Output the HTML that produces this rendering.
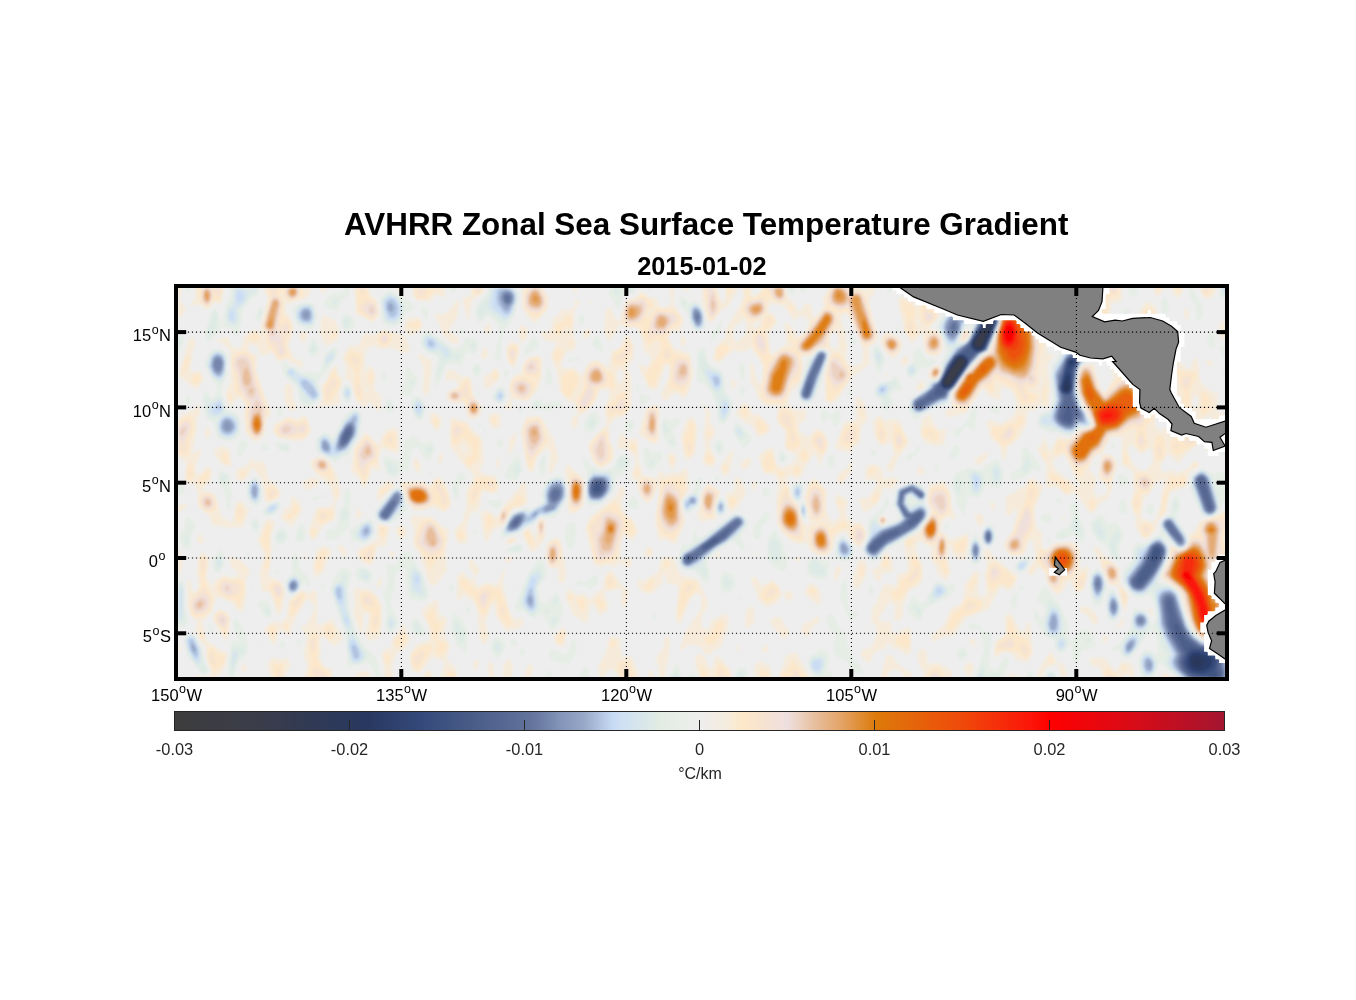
<!DOCTYPE html><html><head><meta charset="utf-8"><style>html,body{margin:0;padding:0;background:#fff;width:1356px;height:1000px;overflow:hidden}svg{display:block;will-change:transform}text{font-family:"Liberation Sans",sans-serif}</style></head><body>
<svg width="1356" height="1000" viewBox="0 0 1356 1000">
<defs>
<filter id="b2" x="-50%" y="-50%" width="200%" height="200%"><feGaussianBlur stdDeviation="2"/></filter>
<filter id="b3" x="-50%" y="-50%" width="200%" height="200%"><feGaussianBlur stdDeviation="3"/></filter>
<filter id="b5" x="-50%" y="-50%" width="200%" height="200%"><feGaussianBlur stdDeviation="5"/></filter>
<filter id="fb" x="-2%" y="-2%" width="104%" height="104%"><feGaussianBlur stdDeviation="1.6"/></filter>
<clipPath id="mapclip"><rect x="178" y="288" width="1047" height="389"/></clipPath>
<linearGradient id="cb" x1="0" x2="1" y1="0" y2="0"><stop offset="0.0000" stop-color="#3d3d3d"/><stop offset="0.0833" stop-color="#3a3c4a"/><stop offset="0.1333" stop-color="#303a55"/><stop offset="0.1833" stop-color="#283860"/><stop offset="0.2333" stop-color="#34497a"/><stop offset="0.2833" stop-color="#495c88"/><stop offset="0.3333" stop-color="#5f7099"/><stop offset="0.3467" stop-color="#6a7aa2"/><stop offset="0.3667" stop-color="#8294b8"/><stop offset="0.3900" stop-color="#98a8c8"/><stop offset="0.4183" stop-color="#c8dcf5"/><stop offset="0.4350" stop-color="#d3e3ef"/><stop offset="0.4617" stop-color="#e1ece3"/><stop offset="0.4833" stop-color="#e9eee8"/><stop offset="0.5000" stop-color="#eeeeee"/><stop offset="0.5250" stop-color="#f4ecdf"/><stop offset="0.5417" stop-color="#fde8c8"/><stop offset="0.5650" stop-color="#f5e2d3"/><stop offset="0.5833" stop-color="#eedfe0"/><stop offset="0.5942" stop-color="#ecd3c4"/><stop offset="0.6150" stop-color="#e6b993"/><stop offset="0.6367" stop-color="#e3a262"/><stop offset="0.6550" stop-color="#df8b2e"/><stop offset="0.6683" stop-color="#dd7a0a"/><stop offset="0.7500" stop-color="#ef4a0a"/><stop offset="0.8167" stop-color="#fc1408"/><stop offset="0.8333" stop-color="#ff0000"/><stop offset="0.9167" stop-color="#d60c18"/><stop offset="1.0000" stop-color="#a31530"/></linearGradient>
</defs>
<text x="706.2" y="235" text-anchor="middle" font-size="31.4" font-weight="bold" fill="#000">AVHRR Zonal Sea Surface Temperature Gradient</text>
<text x="701.9" y="275.2" text-anchor="middle" font-size="25.3" font-weight="bold" fill="#000">2015-01-02</text>
<g clip-path="url(#mapclip)">
<rect x="178" y="288" width="1047" height="389" fill="#eeeeee"/>
<g transform="translate(178 288) scale(0.5)" filter="url(#fb)"><path fill="#f6ebda" fill-rule="evenodd" d="M8 57l-8 3 0-60 8 0-6 24 14 16-8 17zM60 43l-20-11-17 4 11-16 0-20 58 0-4 28-4 4-12-3-12 14zM160 307l-8-1-17-18-3-32 3-20-7-14-9-2-15 17-4-5-5-24 10-20 0-64-17-14-11-2 3-5 20-6 6 19 14 6 8-6 4-19 9-9 15-5 12 6-2-13 14-56-6-8-1-12 93 0-2 12-7 8-42 12 1 16 11 16 4 16-9 36 10 24 17 8-1 14-12-10-12-3-4-7-20 5-12-18-16 7-9-4-3-15-12-4-8 3 4 12 15 8-3 28 31 88-11 11-3 29-13 15zM292 10l-8-2-1-8 15 0-6 10zM388 68l-32-17-4-51 30 0 3 12 14 16 3 28-14 12zM448 6l-8 0-8-6 19 0-3 6zM504 27l-28-3-6-8-2-16 67 0-3 19-16-6-12 14zM580 69l-11-45 3-5 13-3 2-16 27 0-6 12-20 12-8 45zM716 69l-12-5-15-24-1-40 41 0 12 20-2 24-23 25zM796 11l-9-11 12 0-3 11zM980 224l-10 0-4-12 16-36 1-20-3-3-6 3-14 45-8 3-12-5-19-43 3-4 8 6 8-1 6-17-4-8-10-4-3-24-9-22-8-4-16 2-12-7-20 33-7-6-5-16 3-36 5-9 5 1 11 23 8 1 12-39 20-6 12-13 16 13 12 0 8 19 12 1 11-11-4-28 10 0-2 32 21 32-8 24-16-4-7 16 11 20 32 11 6 41-8 36-6 10-8 3-8-10-8-2-12 15zM1020 8l-12-8 15 0-3 8zM1068 70l-8-6-13-40 1-24 29 0 11 31 6-7 0-24 26 0-20 38-12 4-20 28zM1296 536l-16-2-16-10-8-16-8 4-16-2-24-21-9-17-3-44 5-40-9-15-20-2-12-35 20-16 10 0 7 32 11 8 24-11 5-9-3-8-14-5-7-11 3-28-18-20 1-32-23 0-11-8-6-8-3-17-11-15-1-40 6 4 10 41 8-6 2-27-5-16-21-26-12 11-20-5-32 27-10-7 4-24 20-20 3-20 31-52 3-12-4-16 20 0 1 12 4 4 8-4 6-12 49 0 5 20 12 9 8 18 4 0 12-17 9 2 7 28 8-4 11-20-2-12 13-24 61 0 9 6 4-6 18 0-2 13-9 7 0 8 5 31 13 37-3 8-18 16 3 32-35 26-26 42-18 13-10-9-1-44 11-52-8-7-16 0-12 12-20 4 2 23-6 28-8 14-8 1-8 21 4 13 16 8 12-3 4 5-1 17-15 8 4 18 16 8 16-15 8 0 8 7 10 22-18 42-4 2 0-16-8-9-17 25-7 20-12 5-12-6-6 5 7 36 16 20 7 29 8 9 8-2-11-52 7-29 8-8 8-2 21 23-1 39 8 21 8 4 12-12-11-32 3-9 8-1 15 10-3 32 12 12 20 3 9 17-3 16-14 15-24-30-8-2-15 13-5 25-12 11zM1524 133l-16 3-12-6-8-41-20 23-15-24-13-64 4-7 20 5 7-2 0-20 48 0-3 21-12 11 16 10 2 14-20 24 18 8 6 8 4 20-6 17zM1540 9l-8-3-3-6 19 0-8 9zM1568 22l-9-2 0-20 11 0-2 22zM1656 342l-4 2-9-28-17-16-10-32 8-4 24 7 23-15 6-20-3-20-6-9-12-8-11 1-1 25-23-9-9-14-4 0-32 48-36 9-6-11 6-6 9 2 0-36 23-33 32-36 17-11 11-24 11-32 1-24-18-48 62 0-6 24 22 23 20 44 12-3 4 4-2 36 2 4 12 0-14 24 6 44-3 36-5 4-12-7-12 12-13-1-2 28-14 28-25 20-2 22zM1712 9l-8-1-4-8 15 0-3 9zM1732 32l-3-12 5-20 27 0 3 20-12-4-20 16zM1812 24l-11-12 7-12 5 0 3 7 0 13-4 4zM1860 64l-20-7-5-9 1-48 51 0 1 21-4 6-16 4-8 33zM1960 17l-5-1-4-16 22 0-13 17zM2004 18l-8 1-11-19 27 0-8 18zM2064 21l-12 0-9-21 33 0-2 12-10 9zM1483 32l-3-12-7 0 3 12 4 3 3-3zM556 113l-8-2-20-19-3-16-12-20 3-5 12 3 11-6 21-25 3 5-5 32-17 24 20 16 0 8-5 5zM848 360l-8-2-9-10-11-32 2-8 36-36-5-28 10-28-1-8-6-6-13 2-8 24-19 19-16 9 0 16-8 12-6-16 2-8 11-8-2-8-5-14-12-3-16-19-7-44-11-24 2-13 11-19-23-2-10-14 2-5 16 1 8-29 11-7 5-10 12 2 11-4 5-19 8 7-11 16-2 48 6 24-5 7-16 5-10 24 2 8 24 0 16 15 12-24 16-8 24 17 8-34 16-7 12-26 8 5 7 18 0 24-13 20 8 16 1 64-15 16-17 4-13 16 1 28 9 20 0 12-5 12-19 12zM828 34l-5-2 1-5 4-1 0 8zM1940 96l-13-8-7-20 1-16 15-26 19 10 4 12-3 28-16 20zM1196 128l21-16-4-40 3-3 12 8 12 23 18-16 5-16-7-10-12-4-12 12-20-30-24-5-4 1-5 16 13 5 6 15-17 24 4 36 3 4 8-4zM2020 63l-4 1-4-12 4-13 6 9-2 15zM1350 156l19-4 1-32-26-61-8-9-9 6-1 8 8 24 5 32-4 20 5 12 10 4zM304 113l-8 3-13-28 4-28 5-5 24 11 7 26-3 12-16 9zM476 92l-16 2-8-10 0-12 8-12 20-2 8 9 0 13-12 12zM1120 108l14-16 4-20-6-11-21 19 0 20 5 9 4-1zM1153 80l8-4 4-12-14 8 2 8zM1483 72l-3-10-2 10 2 3 3-3zM2096 104l-9-4-5-8 0-16 6-14 8 15 0 27zM616 92l-5-8 9-14 6 6 0 8-10 8zM688 108l-4 0-3-24 2-8 5-2 8 4 4 10-4 15-8 5zM1976 96l-4-12 8-11 2 11-6 12zM820 101l-8 0-2-5 2-10 8-6 6 8-6 13zM1840 142l-4 2-4-4-5-12-11-11-23-9-1-12 8-2 37 30-4-32 3-13 4 3 6 22-6 38zM400 248l-16-21-12 12-15-11-11-40-12-8 2-20-7-24 15-22 16 2 12-24 20 2 20-11 44 14 8 27-8 8-28-13-24 3-12-8-17 10-3 62 1-18 7-11 8 0 7 15-2 32 13 12 0 24-6 8zM1572 106l-8-2 1-4 7-13 8-4 2 13-10 10zM1768 103l-9-11 9-12 3 8-3 15zM1940 501l-11-1-14-20 1-16-10-32 6-32-3-28-2-8-15-6-5-6 1-54-24 1-16 33-12 2-8 10-6 20 15 16-6 28 9 11 16-7 3-8-4-12-15-12 8-48 20 2 11 18-9 28-2 23-8 17-16 11-16 20-8-5-24-36-20 5-20-18-12 3-8-4 1-40-19-32 12-16 2-12 12 31 16-30 24 5 20-19 24-7 0-12-26-48-2-42 8-19 23-3 12 44 9 14 4-3 15-27-8-36 9-62 10 6 18 77 8 3 8-10 8-1 31 39-4 32 7 20-4 24 6 12 8 2 8-9 6 15 6 2 8-4 4-10 4-38-8-20-9-6-19-28 8-23 16-26 28 24 5-3 7-19 7-1 6 48 19 18 16 5-2 33 6 6 12 2 0 61-11-5 2-28-3-11-24-13-10 8-2 12 2 16 15 24-1 9-4 2-12-17-4 0-24 18-20 23-20-20-13 21-3 9 8 10 12-7 16 6 20-10 12-14 8 3 2 7-19 12-7 30-30 10-7 20-1 20-17 16-8 24-13 13zM252 112l-9-12 0-8 5-5 8 1 3 8-7 16zM1321 120l0-20-4-12-5-2-9 10 0 16 5 10 13-2zM1432 142l-16-13-9-17 0-12 9-11 20 7 13 12-3 16-14 18zM1012 117l-8-5 4-19 9 11-5 13zM36 203l-36-28 24-77 10 6 1 8-6 16-4 36 3 4 16-2 8 14-2 8-14 15zM672 160l-10-8-5-16 0-16 7-13 19 5-1 20-10 28zM616 141l-8 0-3-5 7-16 5 0 4 8-5 13zM496 217l-6-9 2-48-12-24 4-5 20 13 4 7-6 57-6 9zM660 244l-8-4 12-20-2-24 4-12 10-11 10-1 4-20 10-12 24-5 4 9-1 36-7 23-20 23-32-5-2 19-6 4zM1448 156l-2-12 10-11 5 15-13 8zM2068 154l-8 1-4-9 4-3 10 5-2 6zM284 240l-5 0 11-20-3-24 11-12 7-20 11-10 3 2 1 16 11 12-9 28 2 19-20 6-16-2-4 5zM1520 181l-12 2-8-7 3-12 13-10 8 2 3 8-7 17zM620 201l-8-3-2-18 26-21 7 9-1 16-22 17zM596 261l-12 1-4-4-8-29-24 1-11-10 3-13 22-11-6-12-20 1-1-13 5-8 10 0 18 14 12-2 5 4 6 36 16 20-2 16-9 9zM888 188l3-20-7-6-6 6 0 12 6 12 4-4zM1420 178l-6-2 2-5 5 1-1 6zM1725 200l4-16-5-10 2 14-6 12 5 0zM1112 203l-7-11 2-8 5-2 4 10-4 11zM1484 205l-8-1 0-4 12-18 5 14-9 9zM236 244l-12 2-8-14-4-24 2-12 6-6 10 10-1 16 7 16 0 12zM381 208l-5-13 0 13 5 0zM192 213l-4-9 6 4-2 5zM1344 331l-12-6-12 0-6-9 18-46 4-4 16 0 5-6-3-32 6-13 14 17 6 32-13 12-4 32-13 12-6 11zM2038 240l3-16-5-10-4 0-3 18 3 8 6 0zM128 480l-20-2-8 3-12-5-18 0-8-20-22-20-1-28-7-16-12-1-6-7 2-36-16-12 0-71 8-11 22-10 10-12 5 16-8 16 1 20-10 43 4 3 12-7 4 5-11 20-1 20 4 5 4-2 16-16 9 13-4 16-17 20 20 5 8 7 12 42 20 12 8-40 4-4 8 1 14 17-14 36zM1068 357l-12 0-7-9 6-28-4-28 5-40-8-23 16 19-1 20 13 20-14 24 14 32-1 8-7 5zM1164 298l-6-2-10-22-12-4-20-16 2-10 14-15 9 3 7 21 16 0 19 23 1 12-20 10zM952 313l-28-18-2-7 14-46 16-8 8 2 3 12-2 56-9 9zM1976 265l-14-21 6-7 8 7 0 21zM636 280l-8 0-7-12 0-12 7-7 15 3 3 24-10 4zM520 285l-8-2-7-15-2-12 5-6 8 1 10 9 1 12-7 13zM248 305l-12 1-36-7-10-11 2-15 28-16 20 6 8-8 8 0 11 29-10 16-9 5zM1428 369l-9-5-2-8 16-24-5-17-4-7-16 8-14-16-5-32 11-14 16 13 12-6 16 6 19 41-23 32-12 29zM1516 316l-20-6-13-18 5-29 16-11 10 24 10 9 12-4 1 3-5 28-16 4zM572 512l-8 0-8-8-4-20 17-16 8-32-1-32 12-16 3-16-15-12-32-44 0-52 4-5 32 10 12 18 12 9 5 12 3 40-10 16 11 8 23 5 7 23-11 11-20-5-4 3-6 35-18 7-6 25 2 28-8 8zM748 370l-4 0-3-6 4-36-9-8-19 20-5 25-8 4-5-5-13-76 10-30 24-2 8 4 24 44 9 36-13 30zM1020 346l-8-10-6-40 11-32 11-7 6 7 5 20-6 48-13 14zM60 300l-4-1-3-11 7-10 6 10-6 12zM376 397l-8 0-8-20-14-9 6-49 24-31 24 25 16-29 20-5 5 9 1 40-6 3-29-11-5 20 2 24-4 2-12-6-12 37zM664 333l-3-5 2-24 13-16 0 20-12 25zM1945 300l-1-11 0 14 1-3zM996 510l-8 0-12-8-12 2-4-4-6-40 9-48-3-16-12 27-12 7-13-18-5-24-12-12 9-24 0-12-15-17-20-3-2-4 6-23 4-1 12 10 16-2 4 3 1 41 10 32 25 4 8-14 12 8 12-5 12 2 16-12 3 5 3 40-13 16-3 12 8 36-18 42zM1938 364l13-20-3-20-4-5-12 11-8 1-20-21-4 18 13 28 11 8 14 0zM577 324l-5-11-4 2 1 9 3 3 5-3zM104 358l-17-6-15-20 0-6 12-9 12 1 7 6 5 28-4 6zM1096 377l-8-6-4-15 24-31 4 1-9 42-7 9zM1604 354l-9-2 0-12 25-12 1 8-17 18zM528 348l-4 3-5-7 5-15 7 7-3 12zM992 361l-4 3-7-12-1-16 4-7 8 2 5 9-5 21zM1807 396l-9-8-22-51-8-3-18 10 0 8 6 12 44 34 7-2zM180 429l-6-1-5-44-17-22-4-1-16 25-12-1-5-5 1-16 25-12 3-12 8 8 20-2 9 38 15 10 9 14 0 8-5 4-20 9zM276 501l-8 3-7-16 12-40 7-9 20 0 12-11-8-32-28-25-10-15 1-12 17-7 16 7 18 28 7 36-3 12-9 12 3 16-3 16-23 12-14 25zM484 370l-8-2-5-8 0-16 5-6 10 18-2 14zM640 363l-4-19 4-4 5 12-5 11zM1140 361l-12 1-4-10 16-14 7 6-7 17zM1328 393l-9-5 0-12 5-8 15-8 5-12 4 2 0 14-20 29zM796 449l-12 2-4-7 1-44-7-36 6-13 32 33-1 52-15 13zM1376 448l-4-1-9-19 0-8 17 1 18-29-6-9-16 1-3-16 7-14 16-1 11 7 5 21 4 2 12-6 14 7-14 18-16-4-12 33-24 17zM1492 373l-13-1 1-15 4-1 9 8-1 9zM260 404l-9-4 1-15 20-7 8 1 2 9-5 8-17 8zM532 448l-24-10-20 7-16-1-14-16-13-36 2-4 41-1 16 9 12-17 8 0 12 15 10 34-2 12-12 8zM1104 450l-9-38 17-4 3-28 5-4 12 19 4 17-16 25-16 13zM1760 613l-8-4-13-17-6-24-9-9-4 0-12 17-7-4 0-8 15-28-7-32-9 4-5 20-7 6-20 3-15-17 0-12 15-20 10-40-2-8-12 16-8-4 0-36 16-6 12-11 8 0 8-14 8-6 23 17-18 48 4 36 13 12-3 20 3 8 6 3 20-13 36-1 11 15 1 40 16-8 2 4-10 44-16 6-10-22-6-1-12 21-8 5zM1152 407l-4-11 4-13 5 9-5 15zM1955 464l8-24 9-58-16 6-12 23-13 9-4 40 21 8 7-4zM404 425l-4 0-3-9 4-16 15-13 15 1 1 8-28 29zM620 506l-4 1-4-6-7-53 15-3 16 13 4-1 8-17 44-53 4 5 3 36-9 8-22 7-16 29-21 12-11 22zM1384 749l-12-6-6-11 2-8 20-6 9-26 0-16-10-8 1-26 10-14 12-32 6-4 20 5 3-25 18-4 3-12-9-48 8-8 21-9 23-35 4-12-8-16 3-36 30-5 13 21 3 33 8 19-4 5-8-8-16 7-3 24 9 4 10 12 36-14 2 14-6 36-8 5-16-8-8-24-5 23 6 32-5 15-6 1-14-11-5-17-11-16 4-20-24-15-4 4-5 15 13 28 2 24-3 12-7 9-17 7-13 28-1 24-5 9-12-1 2-28-10-11-22 35 2 6 22 2 2 23 16-3 12-9 10 1 1 48-11 6-12-10-16-5-8-10-8 12-19 7-9 21zM1048 469l-8-8-2-9 6-10 4-34 12-19 25 19-12 28 5 28-18 0-12 5zM904 558l-8 0-12-9-12 9-12-5-16 5-12-5-17-73 8-20 53-44 8-18 4-1 6 7-7 24 2 16 7 10 16 10 8 24-12 18-16-13-7 15 0 32 3 6 16-7 5 13-5 6zM228 478l-23-18 7-16 11-8 5-21 16 15 5 14-21 34zM1628 444l-4-12 4-6 6 10-2 8-4 0zM4 448l-4 2 0-16 16-3 2 5-14 12zM360 462l-4-6 4-18 9 14-9 10zM2056 704l-16-7-13-17-22-72-13-12-23-12-2-8 16-36 2-24 15 7 12-2 9-9 3-19 11-9 6-16 35-10 20-15 0 49-3 8 3 9 0 57-20-4-6 14 10 19 16 6-3 31 3 62-12 7-28 3zM1608 475l-4 1-10-12 2-12 8-1 6 5 2 8-4 11zM516 594l-8 1-7-7-16-52-15-24 3-32-9-16 8-10 36 4 20 19 15 7-8 44 3 36-22 30zM1412 474l-8-1-3-5 1-8 6-6 11 6-7 14zM712 528l-9-4-15-32 8-10 8-2 12 23 2-31 10-12 7 8-1 28-6 14-16 18zM1772 465l-4-1 0-6 6 2-2 5zM200 657l-16-49-16-1-5-35 10-36-13-32 13-36 7-6 15 6-9 28 2 32-7 48 27 13 6 23-4 28-10 17zM388 553l-8 1-16-10-5-8 0-12 39-20 1-32 21 4 4 4-8 36-16 1-12 36zM452 501l-8 0-6-9-3-8 5-8 11 0 7 8-6 17zM48 513l-11-9 7-14 8 14-4 9zM664 512l-11 0 10-12 15 0-4 8-10 4zM772 589l-11-1 0-28-17 0-9-24 3-24 6-7 16-7 7 14 5 28 4 36-4 13zM280 578l-8-3-3-19 9-32 14-8 11 4 5 8-11 20-5 18-12 12zM336 542l-17-22 5-6 6 2 6 11 0 15zM944 538l-8-1-4-5 8-17 10 9 0 8-6 6zM1896 647l-4-3-14-48-14-2-5-6-27-64 1-8 9 4 15 20 26 20 1 32 18 24-6 31zM0 576l0-59 10 39-10 20zM1516 705l-8 3-1-12 25-22 14-34 14-4 8-8 5-16-1-16 20-29 8 0 3 5-4 40 9 6 8-4-2-42 4-24-6-11 0-13 12 1 9 15 47 36-8 20-12 10-8-7-8 0-24 44-45 17-23 35-24 3-12 7zM72 780l-36 0 4-6 20 6 7-12-10-24-2-28-11-11-9-21 4-16-13-12-6-20-1-52 5 0 4 21 8 3 6-12-4-28 2-24 8-18 14 14-5 36 11 24 4-13 20-13 16 5 10-3 0-8-14-14 0-17 24 9 16 18-8 20 1 24-7 40-10-3-12-16-28-11-4 1-8 29-20 20 10 40 14 5 12 12 12 1 2 6-2 20-8 17-16 11zM256 540l-4 0 0-13 4 13zM432 541l-8-5 0-9 9 1-1 13zM1076 541l0-9 9-4-1 7-8 6zM1160 532l-6-4 8 0-2 4zM1404 588l-8-4-9-20 13-5 12-27 8-3 9 19 2 16-7 5-16 1-4 18zM664 549l-8 0-2-9 14-3 2 3-6 9zM1064 732l-8 2-12-18-24-3-12 13-4-6 12-35 29-41 3-28-12-5-10 9-22 52-7-4-2-8 6-60-5-8-18 0-2-18-7-2 1 16-22 23-16-1-12-11 0-18 8 7 33-20 3-20 8-10 8-1 12 5 9 26 7 7 28 6 7 7 17 40-2 12-11 16 1 24 12 4 8-20 24-12 8 4 1 20-15 40-22 16zM1240 548l-7-4 1-4 10 0 2 4-6 4zM596 580l-15-24 2-12 5-3 15 23-7 16zM1360 601l-8-2-3-11 10-40 9-6 8 6 3 16-7 20-12 17zM1316 586l-5-2 1-16 4-9 8-4 3 9-11 22zM1132 563l-4-6 4 0 0 6zM612 714l-8-10-5-56-7-20-20-14-12 12-2-2 1-48 9-10 12 14 12 0 8 17 20-8 12 5 10-6 6-19 8-8-7 31 16 60 7 10 8 2 8-4 4 8-8 12-28 6-20-30-4-24-4 2-13 34 7 28-10 18zM896 637l-8 1-2-6 2-31-36 7-3-4 5-28 6-9 8-2 20 30 14 9-6 33zM404 597l-4 2-3-7 7-13 4 5-4 13zM1184 636l-8 1-16-13-4-20-9-16 1-11 8 2 12 18 20-13 14 12 8 16-11 16-15 8zM1284 633l-4 1-27-22 7-20 10 0 12 8 4 20-2 13zM388 704l-8 0-6-12 8-32-2-9-9 1-1 36-6-1-4-6-10-37 5-12-5-24 6-8 29 4 15 14 8 18-2 56-6 9-12 3zM308 780l-55 0 6-24-8-20 7-40-12-16 12-8 16-32-10-16-8 1-14 23-14 27-4 20-20-13-12 34-20-32 9-12 15-5 8 4 8-7 5-8 4-32 27-20 12 7 12-8 4 2 3 19-2 48 7 3 24-13 20 32 0 10-16 12-24-20-4 5 1 43 7 12 17 8-1 16zM816 670l-24-14-17-36 5-19 16 12 16-1 12 11 16-16 8-3 4 4 8 24 0 12-16 11-12-19-4-5-4 2-4 32-4 5zM1224 626l-8-3-4-11 12-7 7 7-7 14zM560 780l-35 0 9-32-26-10-24 32-12-1-5-9-4-20 2-12 15-17 20-5 4-10-2-16-16-36 30-21 4 1 2 28 14 7 2 5-6 28 12 24-7 28 19 16 4 20zM1836 674l-6-2-10-17-15-7-1-10 16 0 16 14 5 12-5 10zM1140 681l-5-5 0-24 5-12 8-3 4 5 1 26-13 13zM1948 656l-6-12 2-6 7 10-3 8zM96 707l-26-43 1-12 13-10 12 6 9 12-4 36-5 11zM1700 746l-8 2-16-5-7-11-9-4-12 1-12 10-4-5 2-26 22-16-3-32 7-10 10 6 14 31 10-3 4-16 6 3 6 61-10 14zM1260 698l-13-10 0-8 5-9 16-5 12-13 3 15-15 9-8 21zM1212 702l-27-30 0-8 11-7 9 3 16 24 1 8-10 10zM1880 681l-2-5 14-18-1 14-11 9zM428 780l-14 0-6-48 4-8 13-4 5-20 22-27 12 31-9 16-19 12-9 28 5 20-4 0zM768 718l-12-6-5-12 3-8 18-14 5 14-3 20-6 6zM1380 687l-1-7 5-2-4 9zM916 780l-34 0-14-19-12 7-5 12-8 0-3-24 14-24 10-36 20 5 2 31 6 6 12-2 4 4 11 28 1 12-4 0zM1856 709l-4 1-3-6 3-11 8 5-4 11zM972 780l-9 0-2-24-6-12 17-28 1-16 7-4 4 8-3 36-9 40zM1596 720l-14-12 2-8 9 4 3 16zM0 733l0-26 5 17-5 9zM1176 729l-10-5 10-13 6 13-6 5zM1124 726l-6-2 2-9 4 1 0 10zM1548 780l-56 0 0-15-8-7-5-22 3-12 10-2 4 4 4 29 12-6 12 3 24 14 0 14zM1728 780l-11 0 3-12 20-36 8-3 12 23-26 8-6 20zM1104 780l-61 0-9-28 2-14 4-6 12 2 12 29 4-2 8-25 4-1 26 29 2 16-4 0zM1264 780l-63 0 15-44 20-8 28 52zM1468 780l-15 0-5-12-12-6-15 6-3 12-13 0 11-44 4-3 8 2 12 18 28 18 0 9zM212 780l-27 0-6-28 9-13 16 4 12-4 5 5 3 12-12 24zM1912 780l-7 0-5-11-11 11-39 0-6-22-14-2-8-12 2-4 28-1 24 28 11-19 17 2 8 13 0 17zM596 766l-5-6 0-12 13-5-8 23zM664 780l-14 0 1-24 9-14 5 2 5 12-3 24-3 0zM632 780l-9 0-4-28 5-6 8 13 0 21zM1188 780l-34 0-2-20 4-9 12-4 15 9 5 24zM1584 780l-6 0-7-20 6-8 11-4 4 12-8 20zM704 780l-10 0 2-20 8-10 7 10-7 20zM1776 780l-10 0-5-28 7-3 4 5 6 18-2 8zM132 768l-4 0-2-12 10-3 2 7-6 8zM512 780l-22 0 3-12 11-4 8 16zM952 780l-14 0 6-17 6 5 2 12zM384 780l-30 0 2-8 8-5 16 0 4 5 0 8zM1684 780l-25 0 4-8 5-2 8 7 8-2 0 5zM1988 780l-23 0 5-8 6-2 12 10z"/>
<path fill="#fce7ca" fill-rule="evenodd" d="M0 10l0-10 4 0-4 10zM60 39l-8-2-7-9-8-28 53 0-6 25-12-2-12 16zM208 141l-8 1-8-16-12-6-5-32-6-8 15-64-7-16 70 0 5 12-20 14-16-3-8-19-6 4 9 20-3 26 16 12 3 14-11 32 8 27-16 2zM388 65l-29-17-2-48 21 0 3 16 17 16 2 23-12 10zM444 2l-7-2 9 0-2 2zM500 21l-20 2-6-7-2-16 56 0-4 4-12 1-12 16zM604 12l-12 1-3-13 22 0-7 12zM720 59l-12-2-15-17-2-20 6-20 30 0 11 20-1 20-17 19zM1068 65l-8-9-8-56 23 0 9 32-2 16-14 17zM1100 18l-2-18 13 0-11 18zM1156 64l-12 1-18-17 11-32-3-16 8 0-1 16 11 4 15-8 4-12 43 0 1 28-15 2-20-12-5 34-19 12zM1212 231l-36-2-11-13 9-60-21-36-5-16 6-16 16-8 2-20 12-6 10 10-6 12-15 8 9 48 6 7 20-16 20-5 4 3 0-7-9-10-1-12 2-2 8 16 4 1 21-19 11-21 30-31-2-16 8-20 38 0 6 5 8-3 8 3 11 11 23 76-4 12-14 11-8 0-10-15-22-53-16 2-8-3 4 26-19 24-1 22-16 0-20 15-20 2 3 25-3 21-4 8-8-1-4 4-16 39zM1504 73l-8 2-7-7-6-20 7-24-13-24 38 0-3 14-15 14 5 12 14 6 3 6-3 12-12 9zM1576 244l-8 0-16-10-3-22 27-42 32-33 16-9 8-21 12-35 1-24-15-48 53 0-15 20 36 32 26 60-12 60 3 16-9 11-12-3-3 4 7 9 16 7-1 4-7 8-24 7-16-34-40-21 0 28-8-1-11-11-5 1-32 47zM1740 16l-1-16 9 0-8 16zM1856 56l-12-4-6-8 4-44 14 8 2-8 26 0-4 18-16 2-4 4 1 24-5 8zM1960 10l-5-10 13 0-8 10zM2004 9l-7-1-3-8 14 0-4 9zM2060 16l-8-1-6-15 24 0-10 16zM1012 210l-16-8-12 1-2-3 5-40-7-13-10 5-17 44-7 0-6-6-5-18 29-41 3-23-11-5-16 14-16-40-24-2-8-6-2-25 10-19 16-2 12-10 21 15 3 9-12 8-4 16 8-2 12-19 32 2 17 14-1 18-20 9-8 17 16 30 28 8 4 6 2 36-14 30zM1472 98l-8-2-9-12 1-28-9-16 1-16 20 10 7 10-3 20 4 24-4 10zM1228 48l-6-8 2-9 8 8-4 9zM1936 88l-8-9-3-19 7-17 8-5 12 6 0 24-8 16-8 4zM0 50l0-8 3 2-3 6zM764 95l-11-3 3-20 12-3 9-13 7-2 4 6 0 15-4 4-12-3-8 19zM480 83l-20-4-1-11 9 2 12-6 6 8-6 11zM544 65l-6-1 6-4 0 5zM312 100l-8 0 8-16 4 8-4 8zM416 116l-12-1-6-11 5-12 9-6 17 10-3 12-10 8zM820 94l-5-2 5-5 0 7zM1516 133l-16-2-7-11 1-20 10-13 16 3 7 14-1 20-10 9zM1572 105l-6-1 2-8 8-10 4 0 1 10-9 9zM156 108l-16-6 2-6 10-7 11 7-1 8-6 4zM1436 133l-12 1-12-14-3-16 7-10 16 2 14 12-1 12-9 13zM892 152l-20 4-3-20 5-8 14-6 12-21 7 11 2 16-17 24zM788 117l-6-5 2-7 5 3-1 9zM1880 119l-4-1 0-10 4 0 0 11zM1084 143l-9-3 4-20 5-7 16-1 1 12-17 19zM672 153l-8-4-5-13 2-16 7-6 8 2 4 8-8 29zM1332 122l-4-6 4-4 0 10zM364 226l-8-9-4-17 3-28-18-32 7-16 20 6 4 10-6 36 8 40-6 10zM760 148l-8-5-1-11 5-8 12-3 1 11-9 16zM164 301l-12 1-13-14-4-32 3-24-10-16-15-8 1-24-7-40 5-12 16-6 8 1 15 13 3 28 26 80-6 12-2 28-8 13zM1308 226l-8-1-2-5-1-52 11-37 16-1 22 42-7 16-31 38zM12 175l-3-7 4-24 7-11 2 15-10 27zM720 186l-3-6-17-2-10-10 3-16 11-11 16-2 4 5 0 30-4 12zM1456 148l-5 0 5-7 0 7zM1888 165l-8-5 4-13 5 5-1 13zM812 246l-8 0-4-5-2-17 14-23 0-21 7-20 9-9 12-3 20 21 8-4 7 35-3 4-12-9-20 7-6 22-22 22zM1516 182l-11-2-3-8 6-12 12-4 6 12-10 14zM1808 379l-8-6-28-46-16 6-3-5 7-25 12 4 12-3 20-19 20-5 7-8-29-60-3-24 5-26 12-8 12 2 13 40 11 17 36-43 24 8 12-11 26 37-1 56-15 20 5 28-3 12-8 5-11-9-3-12 4-20-6-5-24 11-24 5-16 31-16 8-12 22-10 8-2 15zM304 229l-8 0-3-5-3-24 22-37 13 29-21 37zM2000 334l-9-2-6-20 3-8 16-12 7-44-1-32-10-40-4-4-12 16-6-8 2-10 12-10 24 9 16-3 4 4 0 13-12 21-1 28 19 56-6 24-36 22zM388 192l-4 1-4-9 4-17 4 0 3 9-3 16zM636 183l-8-3 3-12 5-3 4 7-4 11zM784 220l-8-2-8-14-1-28 21-12 9 8 5 16-18 32zM40 192l-8 2-5-10 5-10 8-4 7 10-7 12zM692 224l-14-4-13-16 3-18 12-8 16-1 22 11-14 29-12 7zM596 259l-14-3-10-32-20 4-12-8 2-12 22-7 5-13 7-6 8 6 3 28 18 20 0 12-9 11zM1736 232l-7-16 7-31 0 47zM1484 200l-1-4 5-3 0 6-4 1zM864 260l-7-12 3-16 13-8 7-12 15-4 5 24-2 12-10 9-12-1-12 8zM2052 253l-5-1-1-8 1-36 5-2 15 18-3 20-12 9zM104 228l-5-12 5-7 6 7-6 12zM1136 261l-11-13 7-12 4 1 4 11-4 13zM1368 261l-4-5 0-20 6 16-2 9zM956 305l-12-1-14-20 8-40 10-7 9 3 4 12-5 53zM1240 321l-16 2-7-7 2-32-15-13-4-11 2-12 10-8 16 10 6 10 1 24 11 24-6 13zM1652 318l-23-22-1-20 20 3 16-10 12 1 4-14 8-4 4 12-2 8-11 8-5 20-22 18zM20 336l-20-4 0-61 12-13 16-4 5 30-10 24-3 28zM516 277l-6-9 2-11 9 7-1 12-4 1zM636 272l-8 0 0-14 9 2-1 12zM2096 310l-9-10 3-36 6-6 0 52zM248 300l-44-2-9-10 2-12 23-14 20 6 16-6 6 22-6 12-8 4zM704 361l-8-18-6-63 8-16 22-4 8 8 11 40-23 28-8 23-4 2zM1172 289l-8 1-4-4-4-18 4-8 18 16 1 8-7 5zM1412 310l-8-2-6-12 1-28 5-6 14 30-6 18zM584 357l-8-4-2-9 13-12 2-8-13-21-8-2-12 14-8-3-1-32 5-13 24 7 12 18 15 12-2 40-17 13zM1024 337l-8-4-5-25 13-43 8 7 2 12-3 40-7 13zM1344 318l-8 0-11-6 0-16 11-20 20-4 4 8 0 20-16 18zM1444 326l-8-2-6-16 2-35 12 6 12 25-1 8-11 14zM1516 308l-24-12-2-12 6-8 12 3 11 9 3 12-6 8zM1064 296l-4 2-2-6 2-10 6 6-2 8zM432 321l-16-5-6-8 6-16 16-6 5 14 0 16-5 5zM848 357l-14-9-11-28 17-28 12-8 5 4 11 48-4 9-16 12zM1288 334l-19-18-3-8 4-12 10-9 9 5 9 20-2 13-8 9zM1964 346l-7-2-5-24 4-23 4-2 9 1 4 8 1 28-10 14zM372 389l-17-29-1-36 18-24 8-4 19 24 1 12-4 20-14 4-3 24-7 9zM916 327l-4 1-7-8-1-8 4-3 8 4 0 14zM1252 349l-6-5-2-12 3-8 5-1 10 9-2 9-8 8zM1736 342l-8-10 4-8 7 12-3 6zM1900 354l-9-6 1-26 11 26-3 6zM100 350l-8-1-4-5-1-12 5-5 8 7 0 16zM1064 352l-10-8 6-17 11 13 0 8-7 4zM1208 381l-12-15-20 1-4-4-3-15 11-21 8 1 8 35 19 5-7 13zM988 350l-4-10 4-5 5 9-5 6zM1864 388l-12-4-7-12 0-24 7-14 16 3 7 11 0 12-11 28zM308 388l-10-12-18-7-8-8-2-13 6-6 12-3 14 9 9 32-3 8zM24 386l-5-2-3-12 4-16 8-8 4 28-8 10zM480 357l-4 1 0-10 4 9zM2036 357l-4 2 0-7 4 0 0 5zM1096 369l-4 0-3-9 7-7 3 7-3 9zM1244 372l-11 0-3-12 14-4 0 16zM168 369l-4-5 4-5 0 10zM1392 372l-11 0 3-11 8-1 5 4-5 8zM48 393l-8-1 0-8 20-21 4 14-16 16zM920 378l-9-6 5-11 5 3-1 14zM128 380l-6-8 10-8 5 8-9 8zM1780 409l-8-2-16-20-12-1 0-19 39 25 4 8-7 9zM796 445l-9-1-4-8 1-68 23 12 5 11-2 41-14 13zM1920 451l-8-7-2-12 2-14 8-10-5-32 5-6 16 0 14 10 0 12-10 16-16 4 2 20-6 19zM1328 384l-3-4 3-6 4 2-4 8zM1964 457l6-21-1-16 12-24 3-20 16 5 12-8 4 3 0 12-4 7-24 4-7 5-8 44-9 9zM592 433l-8-4-2-17 14-30 8-4 28 4 6 14-2 8-8 4-20-8-16 33zM940 426l-12-8-6-18 3-16 11-4 13 4 5 12-4 20-10 10zM992 504l-26-12-8-28 0-20 9-60 41-6 4 1 3 25-10 24 6 40-19 36zM536 442l-8-1-12-11-24 11-20-1-12-12-9-36 37-1 20 12 5-15 7-5 16 20 5 13 2 16-7 10zM1680 532l-16 0-7-8-3-12 17-24 24-64 5-30 8-8 13 22-12 28 1 48-14 20-7 24-9 4zM404 416l1-12 21-12-2 8-20 16zM1280 466l-12-5-12-41 6-24 10-7 17 11 4 8-1 44-12 14zM184 425l-7-5-1-20 12-4 8 3 5 13-5 8-12 5zM1068 459l-16-4-5-11 1-32 12-16 16 7 5 9-13 47zM1248 505l-20-4-20-17-7-12 1-48 10-28 8 2 5 22 15 16 12 48-4 21zM1536 576l-22-40 2-27-4 4-12-1-16-16 6-20 18-28 5 0-12-20 3-27 24-6 11 9 5 16-1 28-20 16 1 28 8 1 7 15-3 40 4 20-4 8zM320 413l-4 3-2-4 2-15 4 16zM1392 430l-4 0-1-6 13-19 1 15-9 10zM68 449l-12-2-12-11-2-12 6-11 16-2 10 9 3 20-9 9zM648 473l-8-5 7-24 21-13 12-17 8-1 5 15-9 8-16 0-12 29-8 8zM1104 441l-4-21 16-3 0 11-12 13zM1828 445l-6-9 2-18 11 10-2 12-5 5zM1328 438l-7-6-1-8 11 4-3 10zM852 549l-12 2-7-7-14-68 9-14 48-37 9 23 11 13 12 7 7 20-7 10-16-12-9 18-7 40-24 5zM224 463l-8-1-3-6 15-8 4-16 4-2 7 14-19 19zM124 469l-6-5-2-16 3-12 5-3 10 15-10 21zM284 473l-6-9 2-17 8-5 20 3 3 7-3 8-24 13zM616 489l-1-33 9-4 10 16-18 21zM2064 701l-16 0-14-13-18-42-7-34-41-36 14-28 6-31 12 7 12-2 10-10 5-16 13-4 3-16 9-11 44-15 0 34-7 16 7 18 0 44-8-5-4-12-12 5-6 26 11 20 19 12-5 24 5 18 0 35-12 12-20 4zM1412 473l-10-5 6-13 10 9-6 9zM76 470l-4-6 4-4 4 4-4 6zM504 566l-9-26-22-32 12-40 15-6 14 6 17 20 5 12-8 36-12 7-12 23zM728 503l-6-3-4-24 5-12 5-3 6 15-6 27zM1296 533l-16-2-13-11-4-24 4-16 21-11 20 13 24-18 11 16-15 1-19 11-2 28-11 13zM176 565l-3-9 6-24-14-28 15-36 7 8-5 24 0 56-6 9zM1940 497l-8 1-6-10 0-12 6-7 13 3 5 8-10 17zM408 501l-6-17 2-9 14 5-6 20-4 1zM1364 514l-12-7-9-19 1-6 16-9 8 3 8 16-12 22zM272 497l-5-1-3-8 8-9 5 5-5 13zM448 495l-7-7 3-7 8 7-4 7zM568 505l-8-4-2-9 10-10 6 14-6 9zM708 520l-16-28 8-9 13 29-5 8zM1464 518l-8-3 0-9 8-6 12 0-12 18zM1572 528l-16 1-4-17 24-13 2 13-6 16zM668 509l-9-1 13-7 2 3-6 5zM752 558l-8-1-4-7-3-26 7-16 12-3 8 7 3 24-4 12-11 10zM1760 607l-21-19-1-20-19-20 2-20 3-6 12 5 20-15 28-2 16 14-1 36-11 18-18 6-10 23zM384 550l-17-10-3-12 28-16 1 24-9 14zM280 568l-5-12 6-24 7-9 8 0 3 9-10 12-1 17-8 7zM944 530l-4 0 0-7 4 1 0 6zM48 658l-12 1-8-5-5-22 5-16 12-6 5-10 2-16-5-32 3-12 7-5 7 13-6 36 17 40-6 22-16 12zM1416 561l-8-9 8-17 6 17-6 9zM1444 624l-12-1-9-15 17-6 6-18 16-12 5-12-1-20 6-6 12 18 2 24-7 12-19 12-16 24zM980 561l-10-5 1-8 5-4 9 8-5 9zM1628 609l-8-15-2-22 6-18 8-7 43 33-11 19-20-10-16 20zM1872 592l-8-1-7-11-9-32 4-3 16 4 13 11 1 24-10 8zM1364 581l-2-17 6-13 4 17-8 13zM1708 567l-4-3 8-10-4 13zM132 568l-4-11 6 7-2 4zM508 580l0-12 4 8-4 4zM1804 604l-8-2-2-10 8-16 10-8 4 4-1 16-11 16zM868 601l-8-1-4-8 1-12 7-7 12 15-2 8-6 5zM1588 604l-4 3-2-11 14-24 0 16-8 16zM124 640l-12-16-16-3-16-13-2-16 14-13 16 5 20-1 3 5 1 20-8 32zM664 676l-5 0-18-20-2-28-7-6-7 6-9 24-8 2-16-36-26-18-2-21 8 2 24 25 24-11 12 6 12 0 23 67-3 8zM944 606l-9-2-1-8 10-12 10 0-10 22zM200 645l-6-25-14-24 12-9 12 2 7 15-11 41zM1004 660l-4-5 0-15 8-50 8-4 20 1 4 13-23 24-13 36zM1180 629l-11-5-4-12 19-20 8-1 8 9 1 12-5 10-16 7zM176 598l0-5 4 3-4 2zM1276 614l-12-2-3-8 3-5 12 5 0 10zM1896 632l-4 1-4-7-4-25 8 2 6 9-2 20zM396 690l-8-2-3-8 2-32-16-8-5-8-3-16 5-8 16 2 12 11 8 15 1 36-9 18zM228 657l-4-3 1-26 23-20 4 2 2 6-4 12-22 29zM792 625l-8 0-4-9 4-4 8 13zM852 644l-8-4-7-12 3-12 14 16-2 12zM812 651l-15-23 0-4 11-7 8 11-4 23zM1544 689l-7-9 11-28 16-11 16-25 30 12-4 12-14 10-20 5-28 34zM516 708l-4 0-6-32-10-20 12-17 4 1 4 25 4 4 12-1-8 13-8 27zM96 696l-23-32 3-12 8-6 12 6 6 8-6 36zM364 666l-4-1 0-10 4 11zM1696 741l-20-14-20-3-21 4 4-20 20-12 0-32 5-6 12 34 20 9 8 15 1 16-9 9zM220 684l-4 0-4-8 8-11 0 19zM1068 712l-8 2-10-14 14-5 12-24 12-7 4 8-3 12-9 19-12 9zM304 704l-14-20 10-13 8 4 6 13-3 12-7 4zM192 704l-12-20 8-10 8 6-4 24zM1412 690l-4-1 0-5 4-5 0 11zM48 705l-6-13 2-9 8 13-4 9zM768 711l-10-3-3-8 13-15 6 7-6 19zM304 780l-44 0 5-32-4-36 7-22 8 0 3 6 0 48 7 12 18 14 0 10zM448 718l-12 0-4-10 4-9 16-10 7 11-11 18zM616 697l-4 2 0-8 4 0 0 6zM1460 721l-8-1-16-10 0-10 20-11 4 3 4 16-4 13zM872 721l-9-5 5-13 8 5-4 13zM528 734l-8 0-6-10 6-20 18 8-1 12-9 10zM484 761l-8 3-4-4-5-16 1-12 16-14 24-6 2 8-26 41zM72 769l-13-29 1-17 8-6 12 15 12 1 3 7-3 11-20 18zM420 756l-8-15 4-11 9 6-5 20zM1748 749l-9-1 5-9 6 5-2 5zM1260 780l-54 0 2-9 12-9 8-19 32 37zM908 780l-21 0-9-20 2-13 24 0 7 21 1 12-4 0zM1104 780l-31 0 7-33 22 21 2 12zM208 780l-16 0-4-28 24 0-4 28zM852 761l-4-5 8-5-4 10zM1060 780l-14 0-2-30 14 18 2 12zM1892 765l-4 1-1-6 5-7 4 7-4 5zM1532 780l-36 0 8-16 12-7 12 7 4 16zM1584 766l-4-6 4-2 0 8zM1180 780l-15 0-1-18 13 2 6 12 0 4-3 0zM1880 780l-27 0 3-18 8 2 16 16zM552 780l-16 0 4-12 4-3 8 4 4 11-4 0zM424 780l-6 0 2-10 4 10zM504 780l-7 0 3-6 6 2 2 4-4 0zM1984 780l-13 0 5-5 8 5z"/>
<path fill="#f6e3d1" fill-rule="evenodd" d="M60 37l-8-3-6-10 2-24 19 0 4 4-1 16-10 17zM84 17l-4 2-7-7 0-12 14 0-3 17zM212 136l-8 4-4-4-5-12-11-11-6-25-7-8 17-64-7-16 17 0-2 12 12 16-6 48 2 2 12-12 8 10-2 12-9 16 5 28-6 4zM228 24l-13-8 0-16 28 0 0 16-15 8zM372 13l-5-1-4-12 10 0-1 13zM492 16l-12 2-3-18 19 0 0 12-4 4zM604 8l-8 2-4-10 16 0-4 8zM720 52l-16-4-10-12 0-20 8-16 22 0 11 20 0 16-15 16zM1068 61l-9-13-3-48 16 0 9 32-2 16-11 13zM1204 28l-12-5-15-23 36 0 2 20-11 8zM1376 112l-13-12-23-61-16 5-23-12-2-12 7-20 33 0 9 8 12-3 12 11 23 76-3 12-16 8zM1496 17l-11-17 27 0-4 12-12 5zM1572 240l-20-11-2-17 26-41 32-33 18-10 19-60 0-52-10-16 38 0-22 12 0 4 45 31 14 21 13 48-8 52 3 20-10 7-13-3-4 12 11 16-10 6-14-30-42-24-12 19-18 5-26 39-8 5zM1876 13l-10-1-4-12 18 0-4 13zM2060 9l-8 0-4-9 15 0-3 9zM908 72l-8 0-7-8-1-16 4-16 8-6 28-6 9 12-9 29-8 9-16 2zM1160 60l-16 1-11-13-1-8 8-15 28-6 7 9 0 16-3 8-12 8zM1852 44l-4 2-6-6 2-19 4-3 5 10-1 16zM388 61l-25-17 1-10 12-9 12 1 9 10 1 16-10 9zM1268 129l-24 1-5-6-1-12 54-68 12-1 10 9 3 16-18 28-3 20-16 2-12 11zM1504 69l-8-1-4-5-3-11 3-11 23 11-3 12-8 5zM944 104l-5-8 4-24 13-25 31 1 13 7 0 14-12 6-16 20-19 1-9 8zM1940 81l-8-4-2-13 3-12 7-6 6 6 1 12-7 17zM1184 72l-7-4 7-8 4 4-4 8zM1464 88l-7-12 7-13 6 17-6 8zM1176 137l-13-9-9-16 0-16 10-8 6 4 6 16 0 29zM1576 100l-8 3-1-3 9-12 4 4-4 8zM412 113l-8-5 0-8 4-8 8-2 7 10-3 8-8 5zM1520 129l-16 1-8-8-1-18 9-13 12-1 8 9 2 17-6 13zM1436 129l-12 2-10-11-3-12 5-11 12-1 13 8 3 12-8 13zM888 145l-12 1-2-10 18-8 8-19 5 7 0 12-17 17zM672 146l-4 1-6-11 1-12 5-5 9 9-5 18zM984 140l-12 0-2-4 6-18 9 10-1 12zM1208 225l-32-3-6-18 12-52 21-24 17-4 12 4 8 8 3 28-3 13-12 6-12 33-8 9zM160 301l-8-2-11-15-3-32 4-20-21-28-4-28-7-20 2-17 12-7 12 0 12 12 9 44 19 56-6 44-10 13zM760 137l-4-1 4-6 0 7zM360 158l-14-14 2-10 14 6-2 18zM1312 205l-13-33 4-24 9-13 11 5 19 32-6 15-24 18zM716 173l-16 1-6-6 1-16 9-9 12 1 4 4 0 20-4 5zM1016 196l-8 4-16-7-3-5 3-45 20-3 10 8 3 28-9 20zM816 240l-8 3-7-11 17-36-2-24 8-14 16-6 14 16 5 16-6 8-19 8-2 20-16 20zM1800 361l-12-12-14-33 30-29 22-7 6-8-29-60-4-24 8-28 13-5 7 5 12 36 13 19 40-35 48 16 6 12-3 28-15 42-20-4-24 15-20 4-18 31-14 7-12 20-20 10zM1516 181l-9-1-2-12 7-10 8-1 5 11-9 13zM2016 204l-8-12 0-14 4-3 14 1 2 8-12 20zM300 223l-4-3-1-20 17-23 7 15-11 10-8 21zM696 220l-12 0-14-12-2-15 8-9 16-2 15 10 1 12-12 16zM364 215l-4 0-4-11 0-12 4-3 5 11-1 15zM596 257l-8 1-6-6-3-32-7-2-12 7-12 1-7-10 3-8 24-4 8-13 4 3 1 22 15 9 8 11-1 12-7 9zM888 248l-12-3-12 6-3-7 3-8 8-1 16-17 6 6 2 12-8 12zM952 302l-12-6-6-12 5-36 9-8 8 4 4 12-1 32-7 14zM1232 309l-7-1 1-24-21-20 3-14 8-1 11 11 1 24 8 20-4 5zM2028 313l-12 0-5-5 1-39 8-12 17 31-1 16-8 9zM16 330l-16-5 0-49 20-14 5 2 3 16-10 24-2 26zM704 349l-10-37-1-32 7-12 20-4 8 12 6 28-30 45zM228 296l-12 2-12-4-5-10 3-8 18-10 20 7 12-6 4 3 3 10-5 12-26 4zM556 302l-4-1-2-13 2-12 4-4 18 12-18 18zM1168 281l-3-5 3-2 0 7zM1660 306l-8 1-8-11 20-21 6 5 2 12-12 14zM1028 285l-4 1 0-6 4 5zM1344 309l-12-3-1-10 14-16 7-2 4 6 0 13-12 12zM2096 306l-5-10 5-17 0 27zM1408 305l-6-9 2-13 4-2 5 15-5 9zM1440 321l-7-21 7-14 12 18-4 12-8 5zM1512 298l-11-6 2-4 9 3 0 7zM848 354l-12-9-9-25 21-31 8 7 7 36-4 12-11 10zM1928 320l-10-12 6-19 4-1 7 20-7 12zM1292 324l-8 0-10-12-1-12 7-7 8 3 4 8 0 20zM428 312l-11-4 3-10 8-1 3 3-3 12zM372 380l-13-24-2-28 15-23 8-4 15 19 2 12-4 12-14 8-7 28zM1024 329l-6-9 2-12 6 8-2 13zM1764 321l-4 3-1-4 5-10 0 11zM1964 339l-4-3-3-16 7-10 5 18-5 11zM1996 323l-5-7 5-7 4 7-4 7zM1064 345l-4-5 4-5 0 10zM1860 383l-11-7-4-12 2-20 9-7 12 3 6 12-3 16-11 15zM296 369l-20-7-4-10 4-8 12-4 12 8 2 12-6 9zM1180 358l-4-6 8-4-4 10zM24 378l-3-6 3-9 3 5-3 10zM1940 404l-12 0-8-7-2-13 5-8 13-2 9 6 2 12-7 12zM796 441l-8-2-5-19 1-36 8-8 16 8 3 12-3 35-12 10zM944 420l-12-1-7-15 2-16 9-6 8 2 7 8 0 16-7 12zM632 401l-10-1-4-12 12 0 2 13zM988 492l-17-4-11-36 11-56 17-9 18 21-2 28 5 24-4 16-17 16zM536 437l-8-5-3-16-9-12 0-12 4-3 19 31-3 17zM496 437l-20 2-12-8-10-35 30-3 15 7 11 20-3 8-11 9zM592 423l-4-3-1-8 13-17-3 21-5 7zM1068 453l-12-1-8-16 2-24 10-12 12 4 6 8-10 41zM1280 461l-8-1-4-5-8-27 4-24 8-8 12 6 5 10 1 36-10 13zM1704 424l-2-16 6-9 4 17-8 8zM188 420l-5 0-2-8 7-11 6 3 3 8-9 8zM1528 456l-8-1-17-27 5-23 16-4 12 6 5 13-1 24-12 12zM1240 500l-24-11-14-21 4-40 10-24 9 20 15 17 8 39-2 16-6 4zM64 445l-12-3-7-10 1-12 6-6 12 0 9 10 1 12-10 9zM684 431l-4-3 4-5 3 5-3 3zM1920 438l-4 0-1-6 1-8 4-1 0 15zM1680 530l-16-1-8-17 19-24 15-44 10-10 8 18 0 16-5 20-11 13-3 19-9 10zM124 457l-4-9 4-7 4 7-4 9zM652 469l-7-1-2-8 5-15 8-4 3 11-7 17zM852 544l-8 3-8-7-12-64 27-28 13-4 20 11 9 17-20 64-21 8zM296 460l-8 4-4-4 0-9 4-3 10 4-2 8zM1512 509l-16-2-9-15 4-16 17-24 4 0 7 4 3 20-3 24-7 9zM1408 473l-5-9 9-7 3 11-7 5zM2060 701l-12-1-15-16-17-44-6-28-14-16-24-17-2-7 12-20 8-28 22-1 16-23 20 3-3-19 7-16 44-9 0 18-6 7-4 20 3 16 7 6 0 30-8-18-4-1-16 11-5 28 13 24 13 12 7 64-12 17-24 8zM728 498l-5-2-3-20 8-13 5 13-5 22zM508 537l-24-17-8-12 15-36 13-6 13 10 15 28-4 19-20 14zM1296 530l-17-2-12-16 2-28 15-10 14 6 7 20 0 20-9 10zM1940 493l-4 1-5-6-1-8 6-7 8 7-4 13zM412 486l-4 1-2-7 5 0 1 6zM908 487l-4-3 0-7 4 10zM1364 510l-8-2-7-12 4-12 7-6 8 2 5 12-1 9-8 9zM1532 545l-8 1-7-14-1-28 12-10 10 14-6 37zM1464 508l-4 0 4-3 0 3zM752 555l-9-3-5-20 3-16 11-8 8 5 3 15-5 20-6 7zM1568 517l-1-5 5-1-4 6zM1760 598l-8 0-12-11-2-11 4-8-16-20-1-12 31-22 24-2 17 12 1 28-10 21-22 7-6 18zM384 545l-10-5-1-8 15-15 2 15-6 13zM52 564l-4 4-3-12 2-12 5-2 3 10-3 12zM1876 588l-12 1-6-9-5-20 7-10 12 3 8 10 1 17-5 8zM1628 591l-5-7 0-16 5-12 8-3 10 11 1 12-19 15zM1468 588l-7 0 0-4 15-27 4 0 1 19-13 12zM1808 596l-4 2-4-6 8-15 4 7-4 12zM108 617l-12 0-12-11 0-14 8-8 32 8 2 4-2 14-16 7zM868 594l-8-3 4-11 5 4-1 10zM1664 589l-4-5 4-3 3 3-3 5zM200 621l-11-21 7-10 8 3 5 11-1 11-8 6zM1020 609l-5-1 1-11 12-4 3 3-11 13zM48 653l-16-1-6-20 2-9 24-24 12 18 2 11-5 16-13 9zM1188 617l-12 2-2-3 11-16 7-2 4 13-8 6zM612 645l-8-10-4-19 8-10 12-5 6 11-14 33zM1892 626l-6-14 2-7 9 11-5 10zM236 638l-6-2 1-8 17-13-3 13-9 10zM388 637l-16-4-3-9 3-9 8-1 11 10 1 8-4 5zM1588 644l-17 0 9-17 16 6-8 11zM652 658l-9-10 5-13 7 9-3 14zM96 681l-8-1-11-12 0-12 7-6 8 2 7 8-3 21zM396 678l-4-1-2-9 6-15 4 2 1 9-5 14zM304 696l-6-8 2-8 7 8-3 8zM764 702l0-6 4-1-4 7zM272 727l-4 0-4-11 3-16 5-3 4 11-4 19zM1668 722l-28 0-1-6 5-6 24-12 6 14-6 10zM1700 732l-8 2-5-6-2-12 3-7 12 9 0 14zM72 758l-10-18 2-12 4-2 8 26-4 6zM480 756l-8-7-1-13 17-10 4 2 0 8-12 20zM904 780l-12 0-7-20 3-7 8-2 7 5 1 24zM300 780l-25 0-6-12 3-10 24 11 4 11zM204 780l-6 0 2-16 4-2 3 18-3 0zM1100 780l-20 0 1-16 3-2 16 18zM1240 780l-11 0 3-19 8 8 4 11-4 0zM1524 780l-24 0 4-9 12-8 8 5 3 12-3 0zM1868 780l-12 0 4-10 10 6 2 4-4 0zM1052 780l0-6 3 6-3 0zM1216 780l-4 0 4-3 3 3-3 0z"/>
<path fill="#f0e0dc" fill-rule="evenodd" d="M60 34l-4 0-4-3-4-11 0-12 4-8 12 0 4 8-1 16-7 10zM80 10l-2-10 6 0-4 10zM192 4l-4 0-2-4 7 0-1 4zM236 20l-8 2-8-3-5-11 3-8 22 0 2 12-6 8zM600 6l-4-1-1-5 10 0-5 6zM724 46l-8 1-8-1-8-5-3-5-2-8 1-12 10-16 15 0 12 20 1 12-10 14zM1068 56l-4-2-4-14 2-40 6 0 11 32-2 16-5 7-4 1zM1208 25l-8 0-7-5-6-12-2-8 26 0 3 16-2 5-4 4zM1380 109l-8 0-7-9-25-65-8 4-8 2-13-5-7-7-2-13 7-16 26 0 9 12 12-5 4 1 9 8 25 76-2 8-3 4-9 5zM1504 9l-8 0-5-9 18 0-5 9zM1872 8l-4-2-2-6 11 0-5 8zM208 133l-5-1-3-22-4-3-8 1-4-5-4-7 1-8-5-4-4-8 14-52 6-7 8 3 6 8-10 52 6 8 3 8 1 16 6 16-4 5zM1164 57l-12 3-9-4-7-12 0-8 4-6 8-3 20-3 4 5 2 11-2 8-8 9zM912 69l-8 1-8-6-3-12 3-16 8-8 12 0 12-4 4 1 4 11-6 20-6 8-12 5zM1572 236l-12-3-6-5-3-8 1-12 24-36 11-8 21-24 20-12 7-20 1-12 10-28 2-38 4-5 4 0 40 26 8 11 5 10 10 40-4 44-6 16 5 4 1 8-3 6-4 1-12-5-8 6-4 0-24-14-12-2-12-9-16 19-8 3-8 6-20 31-8 9-4 1zM388 57l-8-4-6-9 2-8 8-6 8 4 5 10-2 8-7 5zM1264 129l-12 1-8-3-4-7 1-8 20-24 29-40 6-4 8 1 8 7 3 12-18 32-3 16-14 4-16 13zM972 89l-16 0-4-1-4-8-1-8 4-12 5-8 8-4 19 4 9 4 3 4 0 4-23 25zM1504 64l-4 0-4-4 0-8 4-1 8 2 1 7-5 4zM216 88l-4-2 0-2 4-9 3 5-3 8zM1516 128l-12-1-4-3-4-8 3-16 9-8 8 0 4 3 4 9 0 15-8 9zM1572 100l0-7 4-2 1 5-5 4zM412 108l-4-3 0-5 4-5 4 0 3 5-1 4-6 4zM1168 125l-8-8-3-9 1-8 2-4 4-2 4 4 5 14-1 12-4 1zM1432 129l-4 1-8-5-6-9 0-12 6-6 12 1 9 9 0 12-9 9zM668 140l-3-8 3-6 4 1 1 5-1 6-4 2zM1208 221l-12 1-16-3-6-7-1-8 7-36 5-12 15-23 8-5 8-1 12 4 7 5 4 8 1 12-16 27-9 29-7 9zM160 298l-8-2-8-12-2-32 5-24-7-5-15-23-4-28-8-20 3-12 8-4 12 0 8 8 9 44 20 56-3 12 0 28-3 8-7 6zM1324 192l-8 2-4-2-9-16 1-24 4-9 4-3 7 4 19 24 1 8-3 7-12 9zM712 169l-12 0-4-5 0-8 8-9 8 0 5 5 0 12-5 5zM1008 192l-13-4-3-7 0-9 4-20 8-6 8-1 8 5 3 18-4 16-3 5-8 3zM832 196l-8-1-4-5-2-14 2-8 6-8 6-4 8 0 11 12 3 8 0 8-6 8-16 4zM1512 180l-6-4 0-8 6-8 8-1 4 5-1 8-3 5-8 3zM1812 353l-12 3-8-5-11-19-3-12 3-8 11-8 13-16 7-4 12-2 8-7-1-11-26-48-5-27 4-22 5-7 7-3 8 3 3 4 7 16 3 16 15 21 5-1 27-27 12-4 8 2 16 10 16 6 4 5 1 8-1 16-8 28-4 7-4 3-16-1-24 17-22 6-7 8-9 20-14 9-12 19-8 5zM2016 192l-2-4 2-6 4 2 0 4-4 4zM692 218l-9-2-11-12 0-12 8-6 12 0 8 5 4 5 0 8-4 8-8 6zM812 238l-6-2 0-8 8-12 6-14 4-4 4 6 1 12-17 22zM556 225l-8-1-4-4 0-8 4-5 12 0 7 5-3 8-8 5zM592 256l-8-4-4-12 2-12 6-4 9 4 6 12-3 11-8 5zM888 242l-4 0-3-6 3-8 4-1 3 9-3 6zM952 298l-4 1-8-7-3-12 3-29 4-6 4-2 8 5 2 12-1 28-5 10zM708 333l-4 1-4-7-4-23-1-20 5-11 16-5 4 1 5 7 5 16 0 12-6 12-16 17zM8 310l-8-8 0-21 12-11 4-2 6 4 1 8-3 8-12 22zM224 293l-8 2-9-3-4-8 3-8 6-4 8-2 7 2 13 12-16 9zM252 288l-4 1-8-5 8-8 4-1 3 5-3 8zM560 289l-4 0 0-9 4 0 2 4-2 5zM1664 298l-4 2-5-4 2-8 3-5 4-1 4 6-4 10zM2028 306l-4 1-4-3-1-4 5-9 4-1 3 10-3 6zM848 349l-4 0-5-5-7-12-2-8 2-8 12-19 4-3 4 2 1 4 5 32-2 8-8 9zM1288 316l-4-1-5-7 1-8 4 0 4 5 0 11zM1444 312l-4 0-2-4 2-10 4 1 2 5-2 8zM1928 314l-4-2-1-4 1-8 4-1 3 9-3 6zM368 361l-6-17-2-16 12-18 4-4 4 0 4 2 7 12 3 8-1 8-2 4-14 8-9 13zM1860 379l-8-3-5-16 1-13 4-6 4-2 8 1 4 3 4 9-3 16-9 11zM296 365l-8 2-11-7-3-8 5-8 9-2 10 6 2 8-4 9zM800 437l-8 0-4-4-4-13 0-28 3-8 5-4 12 3 4 5 2 8-2 28-3 8-5 5zM1940 401l-8 1-9-6-1-12 6-7 8 0 8 7 1 8-5 9zM944 417l-8 2-9-11 1-16 8-7 8 2 6 9-1 12-5 9zM488 437l-16-2-9-7-7-24 0-4 4-4 28-1 8 5 8 8 3 8-1 8-6 8-12 5zM988 485l-8 0-7-5-10-24 1-16 8-35 4-7 4-2 4 1 4 3 14 16 4 40-2 16-8 9-8 4zM1064 451l-8-3-4-6-2-10 2-20 8-9 12 5 3 8-7 30-4 5zM1280 458l-4 0-4-2-8-20 0-16 4-12 4-4 8 1 4 4 2 7 2 28-3 8-5 6zM1532 450l-8 1-16-19-2-8 2-9 8-7 12-1 8 9 2 20-2 8-4 6zM64 442l-10-2-6-8 0-10 8-6 8 1 6 7 0 12-6 6zM1240 492l-8 2-8-3-12-9-7-10-2-12 2-12 5-16 6-8 4 0 12 10 7 10 6 32-1 9-4 7zM652 467l-4 1-3-8 3-12 4-4 4 1 2 7-2 8-4 7zM1676 528l-8 1-4-3-5-6-1-8 6-10 14-10 4-20 8-12 3-12 3-4 4-1 5 13-6 28-12 12 1 16-2 8-10 8zM848 541l-4 1-5-6-4-44 11-12 3-24 4-4 7-2 12 4 9 6 5 8 0 8-14 52-4 6-20 7zM1512 506l-8 2-8-4-6-8-1-8 6-16 13-17 4-1 5 6 4 16-2 16-7 14zM1408 472l-4-4-1-4 5-6 4 0 3 6-1 4-6 4zM2068 697l-16 2-8-3-7-8-8-12-4-12-13-52-9-12-31-24 1-8 9-12 10-30 12 1 8-3 9-8 7-12 4-2 12 3 7 7 1 4 1-20-5-8 0-8 8-13 16-3 8 2 6 6 1 12-4 16 0 24-4 16-4 4-11 4 0 12-5 16 13 23 15 21 0 28 8 16-5 16-5 8-17 9zM728 494l-4-2-3-16 2-8 5-3 4 11-4 18zM512 525l-8 2-4-1-16-14-1-4 11-32 6-5 4-1 6 2 7 8 11 24 0 8-4 7-12 6zM1292 528l-8 0-8-4-6-8-2-8 2-20 6-7 8-4 8 2 4 3 8 22-1 16-3 4-8 4zM1364 506l-4 0-3-2-3-8 2-9 4-4 4 0 5 5 1 8-2 6-4 4zM1528 543l-4-2-3-5-3-12 3-20 3-6 4-2 4 2 3 6 2 12-4 20-5 7zM752 552l-4 1-4-2-5-19 4-16 5-4 4 0 6 4 2 12-2 16-6 8zM1756 594l-8-1-8-9 0-10 8-6-13-16-3-8 0-4 20-22 12-4 16 0 10 6 6 8 2 12-3 16-6 12-5 4-20 4-3 12-5 6zM384 536l-2-4 2-5 1 5-1 4zM1876 585l-8 3-8-6-5-18 1-5 4-5 8-1 8 7 4 12-4 13zM1632 578l-4-1-1-5 1-6 4-6 4 1 3 7-3 7-4 3zM104 613l-8-1-8-8-1-8 5-7 8 0 9 7 0 12-5 5zM204 614l-4 1-5-7-2-8 3-5 4 0 5 5 1 8-2 6zM612 634l-4-2-3-12 3-7 8-2 1 9-5 14zM48 648l-8 2-6-2-5-8 0-8 3-8 4-3 16-9 8 8 2 12-3 8-11 8zM380 629l-4-5 4-2 2 2 0 4-2 1zM92 677l-8-4-4-6-1-7 5-6 8 1 4 5 1 12-5 5zM1664 717l-5-5 5-5 4 5-4 5zM896 769l-3-5 3-4 2 4-2 5zM1520 780l-16 0 4-5 8-4 6 5 1 4-3 0zM292 780l-5 0 1-3 4-1 3 4-3 0z"/>
<path fill="#ecd2c2" fill-rule="evenodd" d="M60 32l-4 0-4-4-3-8 1-12 6-8 4 0 4 4 3 8-2 12-5 8zM232 20l-8 0-4-4-3-8 4-8 17 0 2 12-8 8zM724 42l-8 1-12-3-6-8 2-19 4-7 8-6 8 2 10 18 1 12-7 10zM1208 22l-8 0-7-6-3-8 1-8 19 0 3 12-5 10zM1384 106l-8 2-4-1-6-7-26-70-8 6-8 1-12-4-5-5-2-12 6-16 21 0 12 17 5-5 7-3 8 3 3 4 25 76-2 8-6 6zM1072 50l-4 1-5-11 1-18 4-11 4 5 5 16-1 10-4 8zM188 97l-4-4 0-5-10-8-1-8 15-48 4-4 4 0 6 4 3 8-12 52 2 4 0 4-7 5zM1160 56l-8 2-5-2-7-8-1-8 5-8 20-5 6 5 2 12-4 7-8 5zM916 65l-12 2-5-3-4-8 1-16 4-7 4-2 24-1 4 6-2 12-6 11-8 6zM1572 233l-8-1-8-4-4-8 2-12 23-36 11-7 22-25 10-6 8-2 3-4 5-19 1-13 9-24 4-36 2-5 8-1 36 26 8 11 5 13 6 24 0 16-4 36-7 20-12 8-8 1-24-12-12-2-8-9-4 2-16 18-16 10-20 32-4 5-8 4zM392 48l-4 4-4-2-2-6 2-7 4 0 3 3 1 8zM1260 128l-9 0-7-4-2-4 1-8 20-24 29-40 4-2 8 1 8 9 0 12-15 24-7 16-30 20zM972 85l-8 1-8-2-5-8 3-16 6-7 4-2 12 2 9 7 0 8-13 17zM1516 125l-12 0-6-9 2-14 8-8 8 1 7 9 0 12-7 9zM1432 126l-8 0-9-10-1-8 6-8 12 1 7 7 1 8-8 10zM1208 217l-12 2-14-3-6-8 0-8 6-32 16-28 7-8 11-3 14 7 5 8 1 8-15 32-7 24-6 9zM148 221l-8-4-5-13-7-9-4-27-7-20 3-5 4-2 12 1 6 10 7 28 1 12 6 12-1 12-7 5zM1328 186l-8 1-4-2-8-11-2-18 2-7 4-2 9 9 11 7 3 5 1 8-4 7-4 3zM708 163l-4 0-4-3 4-8 4 0 4 4-1 4-3 3zM1012 184l-12 0-3-4-1-8 4-16 4-5 8-2 5 3 4 12-2 12-7 8zM840 193l-12-1-5-4-3-8 4-14 4-4 8-4 8 4 7 14 0 8-3 4-8 5zM1516 178l-4 1-4-3-1-4 2-8 7-4 4 1 3 7-3 7-4 3zM1804 352l-8-1-8-9-7-14 1-12 25-28 21-7 5-5 1-4-11-28-7-8-11-24-4-24 3-16 4-8 8-5 8 4 7 13 7 24 14 19 4 0 28-26 8-4 12 1 29 18 4 8 0 8-10 36-6 4-17 4-24 18-20 5-7 9-9 19-14 9-14 20-12 4zM1708 185l-4 0-3-5 3-4 4 1 2 3-2 5zM692 213l-8 0-8-9 0-8 4-5 8-2 7 3 3 4 1 8-7 9zM560 221l-8 2-4-1-3-6 1-4 6-4 8 2 3 6-3 5zM156 296l-6-4-4-8-2-16 4-24 8-21 4 1 9 16 0 8-2 4 3 20-3 16-3 5-8 3zM596 253l-8 0-6-9 1-12 5-5 8 2 5 7 0 8-5 9zM952 293l-4 2-4-3-5-12 2-24 3-7 4-2 4 1 4 12 0 24-4 9zM708 325l-4-2-4-13-2-26 6-9 12-3 4 2 3 6 4 20-7 15-12 10zM12 293l-4 3-5-4-1-4 10-12 4 1 1 3-5 13zM220 290l-8 0-5-6 1-4 8-6 7 2 3 4-1 4-5 6zM848 342l-4 0-4-4-5-14 9-20 4-2 4 10 1 16-1 8-4 6zM380 341l-8 3-4-1-4-11 8-16 4-5 4-1 6 6 4 12-2 8-8 5zM292 364l-8-1-6-7 1-8 5-4 8 1 6 7-1 8-5 4zM1860 375l-4 0-4-3-4-12 2-12 6-6 8 1 6 9-1 12-9 11zM1940 396l-4 3-8-3-3-8 3-6 6-2 6 4 1 4-1 8zM800 433l-4 1-5-2-3-4-3-12 0-16 2-12 5-5 4-1 10 6 3 12-1 20-4 10-4 3zM940 416l-8-3-4-9 2-12 6-4 8 2 4 9-3 13-5 4zM496 432l-16 3-12-4-8-12-2-15 1-4 9-3 12-1 8 1 8 5 7 10 2 8-4 8-5 4zM988 480l-8-1-4-4-8-13-2-10 0-12 6-25 4-9 4-2 16 11 5 9 2 40-3 8-12 8zM1064 447l-8-3-5-12 1-16 4-7 4-2 8 2 5 7-5 24-4 7zM1280 453l-4 1-4-3-6-19 3-16 3-5 4-1 4 2 3 4 3 16-1 12-5 9zM1528 446l-4-2-12-20 4-8 8-3 7 3 3 8-1 16-5 6zM64 438l-8 0-5-6 0-8 5-5 8 1 3 4 1 8-4 6zM1236 488l-8 2-8-4-8-7-6-11 1-20 5-13 4-4 8 0 8 6 6 7 5 28-3 12-4 4zM652 465l-4 0-2-5 2-10 4-4 3 2 2 4-5 13zM856 532l-8 3-5-3-4-28 2-8 8-12 4-24 7-5 16 7 5 6 1 8-12 48-6 6-8 2zM1412 469l-4 2-3-3-1-4 4-5 4 1 2 4-2 5zM1508 505l-8 0-5-5-4-8-1-8 3-8 11-15 4-4 4 0 7 11 0 16-3 12-8 9zM728 490l-4-2-2-12 2-7 4-2 2 9-2 14zM2064 696l-8 2-8-1-12-12-9-21-13-52-9-12-30-24-1-4 9-16 9-24 4-4 12-1 8-4 12-15 8-2 8 3 11 15 1 5-1-33-5-8 0-8 7-12 11-2 8 1 5 5 3 12-3 12-3 40-6 7-8 1-2 4-1 12-4 16 20 40 7 5 2 11-2 16 7 16-2 12-5 9-8 6-12 5zM512 520l-4 1-8-3-6-6-3-8 5-23 4-6 4-1 4 1 5 5 10 24-5 12-6 4zM1296 524l-8 2-8-2-9-12 0-20 9-11 8-1 4 2 7 10 3 20-2 8-4 4zM1364 498l-4 1 0-8 4 0 0 7zM1528 539l-4-2-3-5-1-12 3-16 5-6 6 6 1 12-2 16-5 7zM1676 526l-8 0-3-2-4-8 3-11 12-7 6 2 4 12-2 8-8 6zM752 549l-4 2-4-3-3-12 1-12 6-9 6 1 4 8-1 16-5 9zM1772 573l-12 0-4-1-14-16-4-12 4-12 10-12 8-4 12-1 8 1 11 8 4 8 1 8-2 12-6 13-8 6-8 2zM1872 585l-8-1-6-12 0-12 6-5 8 3 6 10-1 12-5 5zM1756 591l-8 0-4-4-3-7 3-8 8-4 8 12 0 5-4 6zM100 607l-4-2-3-5 3-5 4 1 3 4 0 4-3 3zM44 645l-8-1-3-4 0-8 5-8 10-5 7 5 1 8-4 8-8 5zM92 669l-5-1-2-4 2-4 5 3 0 6z"/>
<path fill="#e7bd9b" fill-rule="evenodd" d="M232 18l-8-1-4-5 0-6 4-6 12 0 2 4 0 8-6 6zM1204 21l-4-1-6-8-1-8 2-4 13 0 2 4 0 12-6 5zM1332 33l-12 1-8-4-4-5 0-13 6-12 14 0 8 8 5 12-4 8-5 5zM60 29l-5-1-4-8 1-12 4-6 6 2 3 8-1 11-4 6zM724 38l-4 2-8-1-7-3-3-4-2-8 2-8 5-8 5-4 8 2 8 14 0 12-4 6zM1380 105l-8-1-4-4-27-76 11-12 8 0 5 4 24 72-1 12-8 5zM184 85l-8-5-1-8 13-45 4-5 4 0 4 3 2 7-5 20-4 24-1 4-8 5zM1072 41l-4-2 0-11 4-1 0 14zM1160 54l-8 1-9-7-1-8 6-7 12-3 8 3 2 7-2 7-8 7zM908 64l-8-2-3-6-1-8 4-11 8-4 16 3 3 4 0 4-2 8-7 8-10 4zM1576 229l-12 1-8-5-3-9 2-8 23-36 10-5 24-27 8-5 12-1 1-2 5-36 8-24 6-33 4-5 8 2 32 24 8 12 4 12 4 20 1 16-5 32-6 16-5 8-5 4-12-1-32-13-8-12-20 24-18 14-14 24-12 13zM1264 125l-8 2-8-2-4-5 1-8 20-24 27-38 4-2 8 1 6 7 0 12-22 36-24 21zM972 81l-12 0-5-5 1-12 4-7 4-3 10 2 7 8-2 8-7 9zM1512 124l-8-3-4-9 4-12 8-4 8 6 2 10-3 8-7 4zM1432 124l-8 0-7-8-1-8 4-5 8-2 9 7 1 8-6 8zM1204 216l-12 1-8-4-5-5-1-8 5-28 17-32 8-7 8-1 13 8 2 12-11 28-8 28-8 8zM1012 175l-8-1-2-6 2-8 4-5 4-1 4 4 1 6-1 7-4 4zM140 195l-4 0-3-3-3-8 1-16 5-10 4 5 5 17-1 10-4 5zM840 190l-12-2-5-8 3-12 10-7 8 4 5 11-1 8-8 6zM1516 177l-4 0-4-5 3-8 5-3 4 2 2 5-6 9zM1808 349l-8 1-8-6-7-12-2-8 2-8 23-26 20-8 6-6-1-12-9-20-8-10-10-26-3-20 1-10 7-14 5-2 8 5 12 33 16 21 4 1 28-25 12-5 8 2 24 15 5 7 1 8-10 32-4 3-16 5-24 20-20 4-8 10-8 18-16 12-12 17-8 4zM1328 180l-6-4 2-8 4-1 4 5-4 8zM688 208l-6-4-1-4 3-5 6 1 3 4-1 4-4 4zM148 211l-4 0-1-3 1-7 4 0 2 3-2 7zM556 221l-7-1-2-4 1-4 4-2 7 2 1 4-4 5zM592 252l-4-1-5-7 1-10 4-5 8 2 4 9-2 8-6 4zM160 294l-4 0-6-6-3-8-1-12 3-12 3-5 8-3 0-6 4 2-3 4 3 1 3 7 2 16-2 12-7 10zM952 289l-4 1-4-2-3-8 3-24 4-5 4 3 3 14-3 21zM716 310l-4 2-4-3-7-17 3-12 8-4 4 0 4 4 3 12-2 12-5 6zM384 332l-4 2-7-2 3-12 4-3 5 7-1 8zM1864 368l-4 4-4 0-5-8-1-12 6-8 8 1 4 6 0 9-4 8zM292 361l-8-1-3-4-1-4 4-5 8 0 3 5 1 4-4 5zM800 430l-8 0-4-6-2-8 1-24 5-7 4-1 8 5 4 11-2 20-6 10zM1932 392l0-6 4 2 0 3-4 1zM940 413l-5-1-5-8 1-8 5-5 6 1 4 8-1 8-5 5zM492 432l-16 1-12-8-5-17 4-8 21-2 12 6 5 8 2 8-4 8-7 4zM992 474l-8 1-4-2-8-12-3-9 0-12 3-17 4-10 4-3 8 3 8 7 4 12 0 32-8 10zM1064 443l-4 0-4-3-4-12 2-12 6-6 6 2 4 4-2 17-4 10zM1280 448l-4 1-4-4-3-9 1-12 6-7 4 3 3 12 0 8-3 8zM64 433l-4 2-4-3-1-4 2-4 3-1 4 3 0 7zM1232 486l-12-3-8-7-4-8-1-8 2-12 3-8 8-6 12 6 4 4 4 13 0 19-4 7-4 3zM652 461l-4-1 0-4 4-7 2 7-2 5zM1508 503l-8-1-4-3-3-7-1-8 2-8 10-13 4-4 4 0 5 9 1 16-4 12-6 7zM860 525l-8-1-4-3-3-17 7-17 4-22 4-4 4 0 12 7 3 12-11 37-4 6-4 2zM1412 468l-5 0 1-8 4 2 0 6zM2072 541l-8 0-3-5-3-40-6-12 4-12 8-5 8 1 9 12-6 56-3 5zM728 484l-4-4 0-4 4-4 0 12zM512 517l-8-2-7-15 1-12 6-9 4 1 6 12 3 16-1 4-4 5zM1296 521l-4 2-8 0-6-3-5-8-1-16 3-8 5-4 8-1 4 2 5 7 3 20-4 9zM1528 536l-5-4-2-12 3-16 4-3 4 3 2 12-2 15-4 5zM1672 524l-7-4-2-8 5-7 8-3 4 2 2 4 0 8-2 4-8 4zM2060 696l-12-1-11-11-9-20-12-52-9-12-21-16-10-12 7-12 12-28 21-8 16-15 12 5 14 22 2 20-6 20 16 28 3 12 9 8 2 6 0 10-3 8 6 12-1 16-9 12-17 8zM752 546l-4 2-5-8 1-16 4-6 5 2 3 8 0 8-4 10zM1780 569l-20 1-9-6-8-12-2-8 2-8 5-9 8-7 20-3 8 4 8 10 2 9-1 12-5 10-8 7zM1872 582l-8-1-4-7-1-10 5-6 8 3 4 7 0 8-4 6zM1752 589l-8-5 0-8 4-3 8 2 2 5-2 7-4 2zM44 639l-4 0-2-3 2-6 4-3 4 1 1 4-5 7z"/>
<path fill="#e4ab75" fill-rule="evenodd" d="M228 16l-4-2-2-6 2-5 4-3 4 0 4 4 0 7-4 5-4 0zM1332 29l-12 1-9-6-1-12 6-11 8 0 11 11 2 8-5 9zM1204 17l-5-1-3-6 0-6 4-4 4 1 4 4 0 9-4 3zM60 26l-4 0-3-6-1-8 4-7 4 1 3 6 0 8-3 6zM724 32l-8 4-8-3-4-5 1-12 7-8 4 0 7 8 3 8-2 8zM1384 101l-8 3-4-2-4-6-22-68 0-8 6-6 8 0 5 6 5 20 18 51 0 5-4 5zM188 81l-8 0-4-5 1-4 13-44 6-3 4 3 0 4-6 20-3 24-3 5zM1156 52l-8-2-2-10 6-6 12 0 3 6 0 4-3 4-8 4zM908 61l-4 0-4-4-1-9 2-8 7-4 10 4 3 4 0 4-4 8-9 5zM1572 228l-8 0-7-4-3-8 2-8 17-24 3-8 4-4 8-4 24-27 12-6 8 2 4 5 2-2-3-12 4-36 16-52 5-3 4 2 12 12 20 13 11 24 3 32-4 28-6 17-4 7-4 2-20-2-24-12-8-15-6 15-15 16-16 12-19 30-12 10zM1260 125l-8 0-4-3-1-10 20-24 25-35 4-3 8 1 5 9-2 8-19 32-20 20-8 5zM968 77l-6-1-3-8 4-8 5-2 5 2 3 8-4 8-4 1zM1512 121l-5-1-4-8 2-8 7-5 4 1 4 8-2 8-6 5zM1432 122l-8 0-5-6 0-8 3-4 6-1 7 5 1 8-4 6zM1204 213l-8 2-9-3-6-8 0-8 5-24 17-32 5-5 8 0 8 5 3 4 0 8-16 52-7 9zM1516 175l-4 0-2-3 2-7 4-2 3 1 1 4-4 7zM840 186l-8-1-5-5 1-8 8-7 6 3 4 8-2 7-4 3zM1812 345l-8 2-8-2-8-10-3-11 3-8 20-24 5-4 15-5 7-7-2-12-7-20-10-13-8-19-4-28 7-16 5-3 8 6 10 29 18 23 4 1 28-24 12-5 8 2 20 13 5 6 1 8-4 20-6 11-20 9-20 18-23 6-16 28-13 9-10 15-6 5zM592 250l-5-2-2-8 3-8 4 0 4 3 2 5-2 8-4 2zM160 291l-4 0-4-3-5-16 4-16 9-5 5 5 3 16-2 12-6 7zM948 285l-4-5-1-4 1-9 4-8 4 6 1 7-1 9-4 4zM716 296l-4 0-4-4 0-8 4-2 4 2 1 4-1 8zM1860 368l-4 0-3-4-1-8 3-8 5-1 4 2 2 7-2 8-4 4zM292 356l-4 2-3-6 3-2 4 2 0 4zM796 428l-4-1-4-7-1-12 1-13 4-7 4-1 8 5 2 12-2 18-4 5-4 1zM940 408l-4 0-2-4-1-4 3-5 4 0 3 5-3 8zM484 432l-12-2-8-7-3-15 3-6 8-3 12 1 8 3 5 5 4 8-2 8-7 6-8 2zM992 468l-4 2-5-2-7-8-4-9 1-19 3-12 4-4 4 0 8 5 5 11 0 28-5 8zM1064 437l-4 2-5-7 0-12 5-5 4 0 3 5-3 17zM1276 440l0-11 2 7-2 4zM1232 482l-4 1-8-3-10-12-1-8 2-12 5-8 4-2 4 0 8 5 5 9 2 20-7 10zM1408 467l0-4 2 1-2 3zM1508 500l-7 0-5-4-3-12 3-9 12-13 4 0 4 6 1 12-2 12-7 8zM860 513l-4-3-2-6 2-24 4-12 4-2 6 2 4 4 1 12-11 26-4 3zM2068 536l-4-5-3-35-7-12 5-12 5-2 9 2 6 12-3 8-4 36-4 8zM1292 520l-8 1-4-2-6-11 1-16 9-7 8 3 5 12 1 12-6 8zM1528 532l-4-3-2-9 2-12 4-4 4 4 1 8-1 10-4 6zM508 512l-1-4 1-2 4 2-4 4zM1672 520l-4-2-1-6 5-5 4 0 3 5-1 4-6 4zM2064 693l-8 2-8-2-10-9-8-20-12-52-9-12-24-20-5-8 16-38 20-9 16-12 8 2 4 3 10 18 4 20-7 20 16 28 4 16 9 6 2 6 0 8-4 8 6 12 0 12-6 12-14 9zM1772 568l-8 0-9-4-9-12-2-8 3-12 5-7 8-5 8-2 8 1 9 5 5 8 2 8-1 12-4 8-7 6-8 2zM752 541l-4 3-4-8 1-8 3-6 4 1 2 5-2 13zM1872 577l-4 2-4-3-2-8 2-5 4-1 4 3 2 7-2 5zM1752 585l-4-1 0-7 4-1 3 4-3 5z"/>
<path fill="#e1984a" fill-rule="evenodd" d="M232 12l-5 0-1-4 2-4 4 0 0 8zM1328 26l-8 0-7-6 2-12 5-5 8 4 4 7 1 6-5 6zM60 21l-4-1 0-10 4 1 0 10zM716 29l-6-5 0-4 2-5 4 0 4 5 0 7-4 2zM1380 101l-8-1-2-4-11-44-11-24 1-8 6-4 7 4 4 24 10 16 8 24 1 12-5 5zM1160 46l-8 1-1-7 9-2 3 2-3 6zM908 57l-4-1-3-8 3-6 4-1 4 3 2 4-1 4-5 5zM1680 168l-8 0-22-12-6-10-6-18 2-36 14-44 2-5 4-2 8 3 8 10 12 7 7 7 7 12 4 16 1 24-7 34-8 13-12 1zM1264 121l-8 3-4-2-4-6 1-4 21-24 22-32 4-4 5 0 6 8-2 8-17 27-24 26zM184 80l-4-2 0-6 8-15 1 19-5 4zM1512 116l-4-4 0-5 4-4 4 5 0 5-4 3zM1428 120l-4-2-4-6 4-6 8 2 2 4-2 6-4 2zM1204 210l-8 2-8-3-4-5 0-8 5-24 15-28 8-6 7 2 5 8-16 56-4 6zM1572 226l-12-2-3-4-1-6 4-10 14-20 3-8 4-4 7-2 16-19 12-11 8-3 8 3 4 8-2 8-14 16-19 16-17 27-12 11zM1516 172l-4 0 0-4 4-3 2 3-2 4zM1808 344l-8 0-8-6-4-10 0-8 23-28 17-7 9-9-9-32-12-17-8-19-2-24 6-13 4-2 8 7 9 24 19 26 8-2 24-21 12-5 8 2 17 12 6 8 0 8-7 22-20 11-20 18-24 7-16 28-14 10-10 16-8 4zM840 177l-4 1 0-4 4 1 0 2zM592 246l-4-2-1-4 1-3 4-2 3 5-3 6zM160 289l-4-1-4-4-3-12 3-13 4-4 4 0 4 5 2 12-2 12-4 5zM1860 362l-4-1 0-7 4-1 0 9zM796 425l-6-5-2-12 2-12 2-5 4-2 4 2 4 5 1 12-3 12-6 5zM492 428l-12 2-12-5-5-9 1-11 12-4 16 4 6 11-1 8-5 4zM988 462l-8-5-5-13 2-16 3-6 4 0 8 6 3 8-2 20-5 6zM1232 478l-8 1-8-5-4-6 0-16 8-10 8 1 8 11 1 14-5 10zM1508 498l-4 1-5-3-4-12 2-8 11-12 6 4 2 12-3 12-5 6zM864 493l-4-3-2-6 1-8 5-5 8 4 1 5-2 8-7 5zM2068 497l-2-5-6-2-4-6 1-4 7-7 4 0 4 3 5 8-9 13zM1292 517l-8 1-4-2-4-8 0-12 8-8 8 4 3 8 1 8-4 9zM1528 528l-4-8 4-12 3 8-3 12zM2060 693l-12-2-11-11-6-16-11-52-9-12-24-20-3-8 13-36 35-20 10 4 10 16 4 20-7 20 16 28 6 20 5 3 3 5-4 16 6 12 1 12-7 12-15 9zM1776 565l-16 0-7-5-5-8-2-8 1-8 5-9 8-5 16-1 8 5 6 10 0 8-3 12-3 5-8 4z"/>
<path fill="#de7f15" fill-rule="evenodd" d="M1324 17l-4 1-2-2 2-6 4 2 0 5zM1684 161l-12 2-16-9-8-9-7-17 0-36 11-35 4-9 4-3 8 2 8 10 16 12 7 11 5 16 1 20-5 24-8 17-8 4zM1256 120l-5-4 5-8 15-16 24-36 7 0 2 8-12 21-27 31-9 4zM1380 98l-4 0-4-4-4-26 4-5 4 6 7 23-3 6zM1568 224l-8-3-2-9 6-12 12-16 2-8 6-4 5 0 15-19 12-11 8-3 5 1 4 8-2 8-14 16-19 16-18 29-8 7-4 0zM1196 208l-8-5 1-19 3-10 10-14 6-14 4-3 5 5-1 14-12 42-8 4zM1812 340l-8 2-8-3-6-11 1-8 23-28 18-8 6-8-8-24 0-8-10-13-9-19-3-28 8-10 4 1 4 6 7 19 10 16 11 12 8-2 28-22 8-3 8 2 16 13 4 12-2 12-6 10-16 7-20 20-25 7-15 26-16 13-12 17zM160 285l-5-1-4-12 4-12 5-1 5 13-2 8-3 5zM796 422l-4-3-2-11 2-12 4-4 5 4 2 12-3 12-4 2zM484 428l-8 0-8-5-4-11 4-7 16-2 8 5 4 7 0 5-4 5-8 3zM988 447l-4 0-4-7 4-9 5 5-1 11zM1232 473l-8 3-9-8-1-12 6-10 8 1 4 5 3 12-3 9zM1504 496l-5-4-3-8 4-10 8-7 4 2 1 3 1 12-3 8-7 4zM864 489l-4-9 4-5 4 0 2 9-2 4-4 1zM2068 489l-4-1-4-4 2-4 6-1 4 2 0 5-4 3zM1288 515l-7-3-3-8 1-8 5-4 4 0 5 8-1 12-4 3zM2064 689l-12 2-6-3-6-7-8-20-6-37-6-14-8-11-23-19-3-8 1-8 12-28 33-17 9 5 10 16 2 16-7 20 18 32 4 21 7 3 1 4-5 8 8 20 0 8-4 8-11 9zM1772 564l-8 0-8-4-6-8-2-8 1-8 5-8 6-4 8-2 12 3 6 7 2 8 0 8-4 9-4 4-8 3z"/>
<path fill="#e16f0a" fill-rule="evenodd" d="M1676 156l-12-2-11-10-7-16-4-20 2-24 8-23 8-12 8 2 12 14 10 7 6 12 4 16 0 20-4 17-7 11-13 8zM1572 220l-9 0-2-8 7-13 9-11 3-11 4-3 8 1 16-23 12-9 8 1 2 4-2 8-15 16-16 12-13 23-12 13zM1808 338l-8-1-4-4-2-5 2-7 18-25 22-12 4-8-8-24 1-12-13-14-6-14-1-28 3-3 4 1 17 34 10 12 5 3 12-4 28-21 8 0 10 6 8 8 2 7-1 9-4 8-19 12-8 12-10 8-10 3-16 2-15 27-13 8-12 19-4 3zM160 277l-4 0 0-8 4 2 0 6zM796 414l-3-10 3-6 4 6 0 5-4 5zM484 425l-8 0-6-5-3-8 3-4 6-2 8 1 7 5 0 8-7 5zM1228 468l-4 1-5-5 1-8 4-3 4 2 2 5-2 8zM1508 490l-4 2-4-4-1-4 1-5 8-8 4 9-4 10zM2060 688l-12-1-8-9-6-18-3-24-6-20-13-20-19-16-4-8 4-16 10-20 25-12 4-1 8 5 8 12 2 16-7 20 19 32 4 28 9 28 0 8-4 8-11 8zM1776 560l-12 1-11-9-2-8 1-8 8-9 8-3 8 2 8 9 2 9-2 8-8 8z"/>
<path fill="#e7600a" fill-rule="evenodd" d="M1676 149l-8 0-8-6-14-27-3-12 1-16 8-23 8-11 4-1 4 2 12 16 8 6 5 11 3 16 0 16-4 12-6 8-10 9zM1608 169l-4-1 4-8 4-3 5-1-1 5-8 8zM1584 182l-2-2 2-1 0 3zM1568 217l-2-5 3-8 7-9 8-4 1 5-3 8-6 7-8 6zM1828 224l-4-1-6-11-2-12 4-8 11 24 0 4-3 4zM1868 277l-20 1-4-2-10-24 2-8 7-8 25-7 24-17 8 0 13 12 2 8-3 8-16 10-8 14-8 8-12 5zM1832 302l-4 1-6-3 3-4 7-1 2 1-2 6zM480 416l-4 0 4-1 0 1zM1776 556l-12 1-7-5-2-12 5-9 12-3 8 6 2 14-6 8zM2060 685l-8 1-8-7-4-8-4-24-10-31-9-16-20-20-4-8 3-15 7-17 9-7 12-5 12 1 7 7 3 8 1 12-8 20 21 36 2 16 10 40-4 11-8 6z"/>
<path fill="#ec510a" fill-rule="evenodd" d="M1672 142l-8-5-5-9-11-12-3-12 0-16 7-20 8-10 4-1 8 6 13 21 6 24-3 17-8 11-8 6zM1872 273l-20 2-8-3-7-20 2-8 9-6 16-5 20-1 12 4-6 8-3 16-6 8-9 5zM2060 681l-8 1-6-6-20-64-7-12-19-21-3-7 3-15 7-17 13-8 8-2 5 2 9 12 1 12-8 20 21 35 11 41 0 20-7 9zM1772 553l-8-1-5-8 3-8 6-3 8 3 1 4 0 8-5 5z"/>
<path fill="#f1400a" fill-rule="evenodd" d="M1676 122l-4 2-16-4-7-8-2-8 0-16 5-16 8-10 4-1 5 3 7 10 6 26 1 12-7 10zM1856 272l-8-1-4-3-4-12 0-8 8-7 16-5 8 0 8 4 6 8-3 12-11 10-16 2zM2056 676l-4-1-10-15-4-20-12-32-23-32 0-12 6-20 3-5 8-4 12 2 7 11 0 8-7 16 0 4 21 36 13 44-5 16-5 4z"/>
<path fill="#f62c09" fill-rule="evenodd" d="M1668 117l-4 1-8-2-4-4-4-12 0-12 4-12 8-10 4-1 8 7 5 16-1 16-8 13zM1860 268l-9 0-5-4-3-8 1-6 7-6 9-3 12 0 7 7 1 8-6 8-14 4zM2060 665l-8 2-4-2-4-5-5-24-9-24-24-36 4-12 2-16 4-6 4-2 8 2 4 6-4 24 24 44 12 40-4 9z"/>
<path fill="#fb1708" fill-rule="evenodd" d="M1664 113l-4 0-6-5-4-12 2-12 3-8 5-6 4-1 4 3 4 6 3 14-3 14-8 7zM1864 260l-12 1-3-5 3-5 12-3 4 4 1 4-5 4zM2056 664l-5 0-4-4-4-24-13-32-22-27 0-5 4-5 8-2 4 4 24 44 13 43-1 5-4 3z"/>
<path fill="#f90204" fill-rule="evenodd" d="M1664 107l-4-1-4-3-2-11 2-12 4-4 4-1 5 5 2 12-3 11-4 4zM2024 585l-13-9 0-4 5-4 6 4 3 8-1 5zM2044 621l-2-5 2-1 0 6zM2056 659l-4 0 0-7 4 1 0 6z"/>
<path fill="#e5ede5" fill-rule="evenodd" d="M24 8l-4 0-4-8 10 0-2 8zM116 100l-7-16-21-8 8-43 8-13 1-20 58 0-3 12-16 11-17 25 0 24-11 28zM320 45l-14-1-12-8-3-8 21-18 16 0 6-10 10 0-1 16-15 7-8 22zM552 10l-7-2-1-8 14 0-6 10zM644 145l-8 0-3-5 10-52-3-17-20-16-12 12-8 1-6-20 6-16 18-20 5-12 52 0 6 12 0 12-8 32-25 36-4 53zM880 45l-8-20-10-9 1-16 52 0-3 12-20 1-12 32zM944 7l-6-7 11 0-5 7zM1232 13l-8 0-5-13 15 0-2 13zM1252 10l-8-2 0-8 15 0-7 10zM1424 10l-5-2-1-8 12 0-6 10zM1460 5l-4 2-6-7 11 0-1 5zM1472 265l-11-21 3-20 33-24 4-12 19-5 8-12 0-23 9-24-8-28-11-16 2-8 24-43 28 6 12-19-4-16 23 0 29 29 9 19 1 24-20 52-18 12-28 31-29 41-7 22-36 13-32 22zM1916 18l-12-2-6-16 22 0-4 18zM2044 65l-8-1 1-24-15-24 1-16 6 0 19 36 2 16-6 13zM2096 23l-10-3-3-20 13 0 0 23zM436 76l-16 0-12-8-3-48 15-16 44 23 7 9-2 8-13 5-12 21-8 6zM1044 88l-8-1-10-11-6-24-17-20 1-14 8 1 12 11 12-4 13 14 6 36-11 12zM1976 56l-6 0-3-24 1-8 8-7 6 19-6 20zM268 85l-31-13-9-28 4-8 24-7 17 3 5 28-10 25zM1820 95l-15-15 0-28-15-8 6-14 14 6 16 20 1 20-7 19zM64 107l-8-4-2-15 12-40 6-9 4 1 12 36-24 31zM164 66l-8-1-2-5 10-23 7 7-7 22zM500 63l-4 0-10-15 2-11 12 5 0 21zM1904 72l-8 3-7-15 1-12 6-7 8 4 5 11-5 16zM1752 76l-6 0-5-8 3-22 13 6-5 24zM348 84l-12 3-9-11 1-20 12-6 16 22-8 12zM804 79l-4-19 8-10 7 14-11 15zM1880 58l-4 2 0-8 4 0 0 6zM1072 105l-6-1 2-15 24-30-8 29-12 17zM1440 89l-6-5 6-9 0 14zM1574 108l10-12 4-20-4-3-12 10-10 21 2 7 10-3zM572 94l-8-7 0-7 8 4 0 10zM0 138l0-53 8 9 3 14-11 30zM520 197l-5-1-2-12 7-44-4-6-20-6-10-12-2-12 8-14 12-4 48 37 16-7 8-19 20 5 5 10-5 19-4 2-16-5-8 26-4 1-20-4-8 3-16 43zM2000 107l-5-7 5-13 4 9-4 11zM2072 120l-8 2-5-14 2-16 7-8 7 28-3 8zM1352 116l-8-12 4-14 9 18-5 8zM692 136l0-12 20-30 11 22-31 20zM848 126l-14-6-6-8 8-19 13 19 3 12-4 2zM272 137l-8-1-4-12 8-22 4-1 11 19-1 8-10 9zM1404 169l-4 1-3-6-9-36 4-10 8-3 15 29-11 25zM1788 294l-8 2-24-8-8 2-24-10-6-12 6-16 20-8 8-20-6-48 3-20 19-30 20-10 24 7 10 13-1 8-19 16-6 36 11 40 20 36-7 6-16 1-16 15zM2096 180l-7-12 6-24-14-24 7-5 8 1 0 64zM260 240l-15-8-8-36-24-20-5-16 1-8 7-5 5 9 11 1 16 13 16-3 20 4 10-39 14-12 8-2 5 6-4 16-37 46 5 34-25 20zM1092 273l-12-5-2-32-14-32-12-14-12-1-2-5 0-56 10-10 8 2 0 20 6 12 28 16 4 36 16 24-6 27-12 18zM1468 181l-9-5-4-12 15-16 1-20 13-9 12 23 20 2 0 4-16 10-16 2-8 15-8 6zM112 305l-16 1-17-6-7-28-16-13-7-35 2-16 5-2 11 14 5 1 8-17-28-52 11-24 9-6 16 1 11 13-1 36-13 32 12 40 19 5 9 15-1 30-12 11zM1264 230l-12 0-8-5-4-17 19-64 21-20 12-1 8 5 0 12-17 60-9 20-10 10zM1944 158l-8-3-6-11 6-20 9 12-1 22zM784 148l-4-1 1-7 10 0 0 4-7 4zM804 148l-10-4 0-4 10 0 0 8zM44 148l-5 0 1-6 4 1 0 5zM1132 182l-4 2-6-20 0-12 6-5 7 17-3 18zM600 178l-4 2-7-12 1-12 6-7 12 11-8 18zM464 217l-12-4-5-13 9-20-1-20 5-5 20 29-16 33zM740 196l-5-4 1-37 8 7 8 26-12 8zM656 181l-4-13 4-7 6 11-6 9zM416 186l-8-3 0-19 10 12-2 10zM1416 248l-7-8-5-16-12-11 0-9 8-14 24-4 12-13 14 27-6 7-12-3-5 4-2 8 7 16-16 16zM920 210l-5-14 5-8 4 12-4 10zM344 230l-8-2-7-12 1-16 6-7 8 3 4 12-4 22zM1128 217l-5-5 5-19 8 15-8 9zM648 232l-16-3-4-13 7-12 13-7 7 7 2 12-9 16zM1344 215l-4 0-2-7 6-8 4 4-4 11zM604 218l-5-6 1-8 5 8-1 6zM932 232l-8 2 0-24 22 10-14 12zM24 232l-4 1-4-5 0-13 8 2 0 15zM488 265l-4 2-8-5-9-18-2-20 7-8 12 2 10 14 0 16-6 17zM428 248l-8 3-4-3-1-16 5-11 7 3 6 12 0 8-5 4zM744 248l-16-5-17 1-5-8 6-12 8-3 12 10 28-6 9 7-1 7-12-2-12 11zM204 258l-8-6 4-16 9 8 0 8-5 6zM684 250l-6-6 6-8 7 4-7 10zM1560 301l-8-5-1-12 13-5 16-15 9-24 7-7 2 15-6 39-12-10-8 1-12 23zM1644 252l-16-2-5-6 1-8 12 1 9 11-1 4zM316 349l-39-21-3-24 18-15 8 1 10 10 20-40 14-16 16-1 8 13-5 40-23 40-12 2-12 11zM1316 277l-4 1-8-22-12 11-6-3 2-20 9 0 7 12 13-12 7 0 2 16-10 17zM828 289l-12-1-4-16 7-16 13-10 8 5 5 17-17 21zM996 320l-16-4-12-24-1-20 5-12 12 6 12-8 8 4-2 10-14 12 11 28-3 8zM392 274l-4-10 5 4-1 6zM908 289l-8-2-6-11 2-8 8-5 8 3 2 6-6 17zM604 278l-7-6 3-4 7 8-3 2zM1128 319l-18-31 1-12 9-7 26 27-2 15-16 8zM2072 302l-5-2-3-12 8-12 8 8-8 18zM616 292l-8-15 9 7-1 8zM436 378l-12-2-8-7-6-25 2-8 32 12 8-16 0-25 20-13 16 17 20-5 6 18-10 19-8 1-15-24-9-2-6 10-5 40-13-4-12 14zM648 323l-11-11 3-14 10 10-2 15zM124 339l-5-3-2-12 7-19 8-2 9 9-17 27zM1088 334l-8-1-7-13-1-8 8-7 8 0 4 7-4 22zM1872 321l-5-1 1-13 6 5-2 9zM180 326l-12-3-1-7 5-7 10 11-2 6zM220 330l-16-4-10-14 10-4 17 4 4 8-5 10zM1464 344l-8-3 0-6 16-7 8-16 3 12-19 20zM1552 342l-8-2-1-8 13-20 10 12-14 18zM948 366l-10-6-6-16-1-20 5-7 12 13 16-5 5 3-1 15-20 23zM1672 386l-5-2-2-12 19-13 5-15 0-24 7-3 28 37 2 10-2 4-12-5-20 16-20 7zM1392 337l-4-1-2-8 6-6 7 10-7 5zM2096 344l-11-16 11-7 0 23zM1212 350l-8-1-2-5 1-16 5-3 10 15-6 10zM676 385l-20-4-2-5 5-16 21-29 9 33-13 21zM728 376l-5-8-1-20 10-16 5 4 0 8-5 30-4 2zM844 433l-20 3-6-8 0-60-7-16 1-16 14 20 22 10 23-6 11-24 14-3 9 11-1 10-16 19-12 4-5 31-27 25zM2044 335l-4-6 4-1 0 7zM1308 360l-6 0-3-12 3-12 6-4 8 16-8 12zM1572 458l-13-26-10-36 3-20 8-9 12-1 8-8 24 6 32-22 4 2 11 24-3 24-8 8-12-1-7-7-1-17-1 13-15 32-24-5-8 43zM1836 357l-3-5 3-9 0 14zM4 413l-4 2 0-65 1 26 14 32-11 5zM1516 374l-4-13 8-8 1 11-5 10zM504 377l-3-5 3-9 3 5-3 9zM2072 456l-16 2-10-6-21-48 1-28 22-15 20 11 28-5 0 60-8 2-7 19-9 8zM100 445l-8-41-13-20 3-16 6-3 15 11 1 20 5 12-5 33-4 4zM560 423l-8-3-5-24 17-29 8 5 3 8-12 12-3 31zM1884 398l-6-18 6-10 14 6 3 12-17 10zM660 496l-12 4-4-8 22-40 30-12 8 4 24-14-1-18 9-26 24-12 8 3 8 15 2 28-18 34-8 6-28-2-12 14-16 5-16 14-20 5zM1080 388l-6-4 2-10 6 6-2 8zM1296 382l0-10 3 4-3 6zM160 437l-17-9-7-20 5-20 11-11 10 7 5 16 0 24-7 13zM1024 449l-4 3-8-6-2-22 20-16 6-23 8-8 6 11-8 20 0 24-18 17zM1576 404l4-12-4-12 0 24zM2081 396l0-8-5-3 0 11 5 0zM1244 427l-10-3-6-12 1-16 11-8 8 3 3 9-7 27zM1400 544l-12 2-19-18 12-32-1-30 32-30 3-16 5-2 3 10-11 20-11 8 0 16 7 5 33-13 3-8-13-24 6-28 27-15 24 5 10 18-5 16 8 16-3 16-18 25-40 28-24 10-16 21zM308 505l-12-3-1-14 5-7 12 2 6-7 6-32 9-12 0-24 7-9 5 13-2 64-15 18-20 11zM428 469l-12 2-12-3-10-8-2-12 38-44 10-5 12 13 6 32-30 25zM1184 417l-16-2 0-19 16 9 0 12zM276 424l-8 0-1-4 29-8 0 8-12-3-8 7zM2096 780l-97 0-35-31-16 31-23 0-4-36 7-17 8-4 8 2 16 11-2-40-14-14-26 42-14 14-8 3-8-4-8-14-13 5 1-8 12-6 23-30 9-45 24 8 12 28 8-11 0-20-11-32-17 7-16-1-22-30 0-16 2-12 16-15 1-21 7-14 16 2 32-21 1-23 19-16 2-24 6-12 8 1 4 7 0 18-8 18 5 12 14 16 5 20-8 11-12 2-29-25 12 32-23 60 28 9 12 11 17 56 19 32 16 11 20-1 20 8 4 10 0 56zM920 443l-19-3-1-9 8-14 4-1 8 12 0 15zM1084 457l-8-9 0-12 4-12 8-4 6 8 2 16-4 9-8 4zM1764 432l-8-4 4-10 8 10-4 4zM640 444l-20-12 0-8 26 0 1 8-7 12zM1892 453l-9-5 1-26 8 1 5 9 1 12-6 9zM192 453l-20 2-4-7 16-17 20-4 0 13-12 13zM1812 510l-4 0-16-18-24 11-14-3 6-14 16-5 8-9 3-16-4-20 7-8 10 9 4 27 10 20-2 26zM1256 461l-4 2-4-3-4-12 4-20 4 1 5 11-1 21zM1948 454l-8 0-4-10 4-9 8-3 5 8-5 14zM1160 503l-8-3-2-20 26-34 6 6 0 12-13 8-4 24-5 7zM1060 589l-8-2-20-21-24-5-7-17 4-24 7-11 8 5 8-3 4-30 8 17 6 2 66-49 16 2 12 15-1 8-15 20 9 20-1 9-4 1-16-21-45 27-8 12 5 32-4 13zM1744 468l-16-1-3-7 3-7 16-1 4 12-4 4zM1880 545l-12-6-12-23-18-12-12-20-1-16 19-17 5 1 11 21 16-8 13 19 0 16-8 20 4 20-5 5zM20 526l-8-6-11-24 11-16 4-20 4-2 9 6 5 12-8 24-1 20-5 6zM156 489l-8-7-5-14 5-5 12-3 4 16-8 13zM376 510l-28-2-5-24 41-24 8 11 1 21-17 18zM788 522l-8 0-6-26 3-24 11-5 6 1 3 8-3 36-6 10zM244 509l-8-3-2-10 6-18 8-7 6 9 1 20-3 6-8 3zM1540 484l-9-4 5-8 6 4-2 8zM1624 518l-14-6-4-16 6-16 12-8 9 8 2 16-1 12-10 10zM204 513l-8-3-3-10 7-16 8-4 8 5 4 15-5 8-11 5zM596 495l-5-7 1-9 6 9-2 7zM1212 568l-20-10-13-18 0-36 13-23 16 24 9 35 1 16-6 12zM1600 554l-13-2-5-24 4-20 10-20 11 32-1 24-6 10zM1344 545l-12 2-19-11 4-28 11-13 12 8 14 21-10 21zM1744 508l-4 3-3-3 7-9 0 9zM688 529l-28 1-7-6 31-13 7 9-3 9zM84 569l-12-1-3-12 5-20 14-16 5 32-9 17zM140 541l-5-9 5-5 5 5-5 9zM232 613l-12-1-5-24 14-20-2-28 9-12 10 36 14 13 5 15-5 5-8-9-20 25zM428 689l-8 0-5-13 3-28-6-36 9-32-6-28 21 1 12-21 12-5 8 6 7 19 13 17 14 47-10 10-28-3-5-7-3-52-4-3-12 4-7 15 2 20-10 20 3 24 10 16 1 12-11 17zM552 536l-4 0 0-11 4 3 0 8zM752 682l-8 1-6-19-10-10-4-1-12 9-24-17-12 1-3-6 27-69 24-32 4 1 12 32-20 28 4 28 12 3 16-19 8-1 12 33-10 28-10 10zM1288 584l-19-4-10-8-1-20 10-14 35 10-3 26-12 10zM1688 569l-14-5 1-12 9-9 20-5-1 14-15 17zM200 574l-5-6 1-10 6 10-2 6zM404 780l-9 0-2-16-13-15-36 9-5-2-3-64-31-88 6-20 17-26 15 6 3 8-6 28 1 36 14 52 17 28 24 21 10 35-2 8zM384 589l-8 2-16-7-6-12 3-12 11-3 20 11 1 8-5 13zM1844 636l-8 0-7-8-6-32 2-20 11-15 12 7 11 32-15 36zM1104 608l-12 2-8-10 2-24 6-10 16 7 5 7 1 16-10 12zM824 604l-12-11-13 3-3-9 4-3 12 7 20-16 8 0 0 17-16 12zM2096 591l-8-1-4-6 4-6 8-2 0 15zM1348 665l-5-1-19-44 1-20 11-22 5 62 7 8 13 0-2 8-11 9zM16 678l-16 0 0-90 8-5 5 13 1 44 7 28-5 10zM548 608l-4 0-2-8 6-12 4 8-4 12zM1484 667l-25-19 1-12 8-19 4-2 10 13 10 4 23-44 9-1 16 9 12-8 3 16-19 16-40 20-12 27zM288 605l-2-9 6-5 1 9-5 5zM668 601l0-12 4 3-4 9zM1684 606l-3-2 8-12 3 8-8 6zM152 609l-4-9 4-6 0 15zM1388 616l-7-8 3-16 8 12-4 12zM1772 728l-8 2-8-6-3-20-20-8-21-36 0-20 16 22 6-10-2-16-15-12 15-30 33 42 16 36-2 20 8 20-15 16zM1868 668l-8-7-5-25 6-32 7-3 12 17 6 26-6 16-12 8zM1676 641l-8-4-5-9 17-22-4 35zM1124 628l0-11 4-3 0 10-4 4zM184 661l-12-5-11-24 3-6 12 0 8 8 5 18-5 9zM584 653l-8-7 0-10 9 4-1 13zM576 734l-6-10-13-8-2-16-8-12 1-41 20 14 11 27-3 46zM952 664l-4-8 4-8 5 8-1 8-4 0zM1368 775l-8-7-12 6-11-30-16-4-11-12 5-32-17-24-2-12 4-8 12 2 8 23 12 11 12 43 26 33-2 11zM112 780l-10 0-1-16 5-52 6-9 8 6 3-5-13-24 2-19 4-3 21 38 2 28-3 11-16 13-8 32zM492 697l-16-3-6-6-4-16 6-12 8 2 14 22-2 13zM72 693l-8-5-3-8 3-10 8 23zM1648 780l-54 0 19-60-7-32-6-7-16 3-3-8 3-5 20 4 8 11 15 6-5 52 2 16 8 4 8-2 12-25 8 1 1 14-13 28zM1800 748l-8 2-3-6-1-36 16-23 12-2 16 13 3 20-3 4-23 4-9 24zM56 773l-12-5-25-32-7-32 8-13 12 2 15 27 6 28 8 16-5 9zM644 740l-8-1-11-15 3-18 8-10 21 16-13 28zM676 718l-12-6 2-8 6-4 6 8-2 10zM212 720l-4 3-4-7 4-13 7 9-3 8zM244 715l-7-3 3-11 8 6-4 8zM780 754l-35-10-3-20 14 0 20 12 7-12 2-16 7-5 4 5 1 20-17 26zM168 714l-4-6 6 0-2 6zM688 741l-5-17 5-4 8 8-8 13zM1568 745l-8-3-3-10 3-9 8-5 8 3 4 11-12 13zM296 738l-4-10 4-5 0 15zM1308 780l-34 0-14-24 4-19 24-15 10 6 4 8-3 28 9 8 3 8-3 0zM820 780l-17 0 4-16 9-8 6 8 1 16-3 0zM1004 780l-21 0 13-27 4 1 6 18 1 8-3 0zM744 780l-9 0 9-20 3 12-3 8zM1136 780l-22 0 2-13 8-9 12 3 3 15-3 4zM1708 780l-12 0 8-17 5 5-1 12zM1756 780l-21 0 4-12 9-3 8 6 0 9zM1036 780l-15 0 3-10 8 1 4 9z"/>
<path fill="#deeae6" fill-rule="evenodd" d="M116 78l-16-4-4-10 2-24 11-16 2-24 49 0-4 10-12 7-21 27-1 24-6 10zM656 69l-8 1-28-22-4 0-8 13-8-2-1-11 4-12 17-18 6-18 46 0 6 8 2 12-8 28-16 21zM880 17l-8-7-3-10 16 0-5 17zM908 9l-8-1-3-8 15 0-4 9zM1228 8l-7-8 9 0-2 8zM1908 4l-2-4 6 0-4 4zM2096 18l-8-4-3-14 11 0 0 18zM432 73l-16-3-5-10-4-36 13-15 18 7 15 20-9 29-12 8zM1484 253l-8 2-9-7-4-12 3-12 33-24 5-11 20-9 6-28 18-32-8 0-4-6-14-34 1-8 25-35 36 7 7 8-1 12-14 10-17 34 5 4 12-4 8-10 8-26 1-20-5-16 8-21 8-1 28 18 10 28 0 12-21 52-17 11-28 32-30 41-7 20-31 11-24 14zM312 37l-5-9 13-9 0 9-8 9zM1012 36l-4-9 4-1 4 6-4 4zM268 77l-20-2-10-7-5-20 7-12 20-5 11 5 4 24-7 17zM1044 86l-12-5-8-17-3-24 11-10 12 5 8 17 1 24-9 10zM64 98l-4-2 0-12 12-39 6 7-1 24-13 22zM164 60l-4-4 4-12 4 4-4 12zM1904 64l-4 4-4-3 0-14 4-1 4 4 0 10zM340 80l-8-2-3-6 1-8 6-6 7 2 3 8-6 12zM1820 86l-11-10 7-18 9 10-5 18zM520 183l-2-11 7-24-2-16-23-5-12-15 3-16 9-6 40 27 12 16 12-5 2 4-6 13-12-3-19 10-9 31zM0 124l0-28 6 12-6 16zM840 114l-4-2 0-9 4 1 0 10zM268 132l-4-12 8-10 6 14-10 8zM592 125l-9-9 5-7 8 4-4 12zM712 115l-3-3 3-3 0 6zM708 118l0-5 3 3-3 2zM1404 158l-4-2-8-20 4-16 8 4 5 12 1 12-6 10zM1784 293l-56-15-7-10 4-12 19-8 10-24-6-48 2-16 21-32 17-10 20 5 11 13-1 8-16 16-6 36 10 40 20 36-6 5-16 0-20 16zM296 158l-4-6 3-16 13-12 7 0-1 16-18 18zM1260 229l-14-5-5-16 24-64 15-19 12-1 8 8-1 8-28 80-11 9zM84 190l-16-12-11-22 7-24 12-8 16 5 6 15-2 28-12 18zM1092 267l-4 0-6-7-4-40-37-64 2-24 5-7 9 27 11 10 16 5 6 9-1 36 11 7 6 13-4 20-10 15zM1480 140l0-8 4 8-4 0zM1940 146l-5-2 1-8 4 10zM1468 176l-8-3-3-9 7-9 8-3 6 12-10 12zM272 228l-12 4-12-5-10-35-23-20 5-12 12-1 12 12 29 9 12 32-2 8-11 8zM600 170l-6-2 2-11 6 3-2 10zM464 196l3-12 5 0 0 7-8 5zM1420 236l-6 0-1-12-17-11-2-9 10-13 32-5 3 6-11 8-11 20 6 8-3 8zM344 224l-8 0-5-8 0-12 5-8 10 8-2 20zM648 230l-12-2-4-12 7-12 9-3 7 15-7 14zM112 300l-16 3-16-9-4-22 4-12-16 2-4-4-7-30 3-11 12 10 16-12 8 17 2 16 18 5 8 7 3 24-11 16zM484 261l-9-5-6-16 1-12 10-8 8 5 4 11-1 16-7 9zM424 241l-4-1 0-12 6 4-2 9zM720 239l-9-3 5-9 7 5-3 7zM316 343l-35-15-2-24 13-12 8 3 8 11 4-1 20-41 16-17 12-1 6 10-6 40-20 33-24 14zM828 281l-5-1-3-8 8-15 10 11-10 13zM904 282l-3-6 3-5 4 5-4 6zM976 292l-7-12 3-11 9 11-1 12-4 0zM1128 302l-8-2-7-12 1-8 6-6 18 22-10 6zM2072 295l-3-7 3-5 4 5-4 7zM992 313l-8-3 0-9 8 6 0 6zM1084 329l-7-9 3-9 7 5-3 13zM216 325l-13-9 15 0 2 5-4 4zM504 331l-8-1-2-6 10-10 5 6-5 11zM2096 337l-4-5 4-6 0 11zM1212 345l-4 1-4-6 4-9 5 5-1 9zM728 360l-2-12 6-10-4 22zM884 364l-5-4 1-12 4-8 8-2 8 10-16 16zM1692 372l-5-8 9-25 4-1 7 18-15 16zM948 357l-6-9 6-5 5 5-5 9zM1308 349l-3-5 3-3 0 8zM432 373l-12-6-4-20 4-2 18 11 0 12-6 5zM676 377l-7-13 11-18 6 18-10 13zM1636 394l-8-6-2-24 10-14 8 8 3 14-3 14-8 8zM1600 414l-8 1-6-7-5-36 4-8 23 7 3 5-2 20-9 18zM2068 456l-13 0-9-8-19-52 1-20 20-13 19 13 14 44 0 24-13 12zM848 429l-24 2-6-7-1-36 11-24 16 4 20-2 5 6 0 32-21 25zM96 391l-11-7 3-13 10 5-2 15zM668 492l-16 3-3-7 19-36 24-10 12 4 24-14 4-4-2-20 9-20 17-9 12 2 8 15 1 24-18 28-19 9-16-1-12 13-44 23zM1560 413l-8-21 8-15 7 15-3 18-4 3zM156 433l-12-8-5-17 4-20 9-8 10 8 4 16-2 21-8 8zM1240 426l-8-6-3-12 3-13 8-4 8 5 1 8-3 16-6 6zM1400 541l-12 2-17-15 0-8 12-24 1-28 12-11 3 15 9 6 36-14 4-4-15-28 5-28 30-14 20 8 9 14-7 16 11 20-5 14-16 21-64 38-16 20zM556 413l-4-3 0-11 4 1 0 13zM424 468l-20-1-7-7-1-12 32-40 12-7 11 11 2 28-29 28zM1020 448l-9-8 1-16 24-15 5 11-1 12-20 16zM1475 432l7-4-14-13-7 1-1 16 4 3 11-3zM1088 454l-8-2-4-8 8-22 8 4 3 10-2 12-5 6zM1992 448l-3-16 7-9 4 17-8 8zM188 452l-13 0-1-8 12-12 14-3 1 11-13 12zM1252 461l-7-17 3-13 5 1 4 12-1 12-4 5zM336 464l-8-1-1-7 1-9 8-6 5 11-5 12zM1056 582l-16-20-24 1-8-5-5-14 2-12 107-79 16 2 8 9 1 8-18 24-44 28-24 24 8 20-3 14zM2008 520l-12-4-30-36 0-12 10-10 12-3 4 2 23 35 4 16-11 12zM1808 497l-8-9-13-4 1-13 8-15 12 30 0 11zM1856 504l-12 0-13-20-1-12 10-10 5 2 10 24 1 16zM156 482l-7-10 7-5 4 9-4 6zM372 508l-17-8-3-8 16-21 16-6 7 11 0 16-7 10-12 6zM24 487l-3-3 3-11 4 7-4 7zM1624 517l-12-5-4-12 3-16 9-9 8 3 5 14-2 16-7 9zM248 499l-4 0-2-7 6-10 0 17zM1160 492l-3-4 3-5 0 9zM1876 540l-8-7-6-25 18-26 6 14-11 20 4 20-3 4zM20 514l-4 2-5-16 9-12 0 26zM208 505l-8 0-3-5 3-10 8-5 7 11-7 9zM1772 497l-9-1 9-6 4 2-4 5zM2096 780l-93 0-29-28-1-8 9-12-14-12-3-24-8-20 3-24-11-48-21 12-16-3-21-29 3-16 18-19 1-25 7-9 12 1 28-20 12 7 9 17 0 12-24 60 27 5 15 11 21 68 16 22 16 10 20 0 17 8 7 14 0 50zM1200 548l-12-4-5-12 0-24 9-10 13 14 1 28-6 8zM1340 543l-12-1-11-10 2-24 9-10 12 7 10 15 0 12-10 11zM1600 550l-10-2-6-20 4-20 8-9 10 21-6 30zM680 526l-20-2 20-10 6 6-6 6zM80 565l-6-5-1-8 3-11 8-8 5 3 1 16-10 13zM236 556l-5-8 5-8 0 16zM1292 576l-25-4-5-16 6-12 8 1 17 15 3 8-4 8zM1692 564l-12 2-4-10 8-10 16-4 1 10-9 12zM492 620l-26-8-4-40 5-16 13 7 8 12 9 37-5 8zM712 655l-8-2-21-21 20-60 21-18 7 22-14 24 6 40-11 15zM380 586l-15-6-3-8 3-8 11 1 8 7-4 14zM356 753l-12-5-6-28 1-28-11-22-19-62 1-12 16-12 6-16 6 8-3 12 5 56 14 48 25 44-5 8-18 9zM1840 630l-10-10-6-32 5-16 11-8 8 6 8 26-6 20-10 14zM228 613l-8-5-3-20 7-10 12-4 9 10 0 12-7 12-10 5zM1100 600l-10-8 1-12 5-3 12 8 0 7-8 8zM12 670l-12 0 0-75 4-7 4 1 4 15 0 66zM1508 629l-5-1-1-8 10-24 8-6 8 2 10 8 0 12-30 17zM1868 664l-7-8-4-20 4-20 7-11 12 16 5 19-5 17-12 7zM756 634l-4 1-3-7 7-11 4 7-4 10zM1772 725l-12 0-5-13 4-12-18-4-7-12-2-16 8-28-2-20 22 18 7 14 5 24-4 16 11 16-7 17zM180 657l-7-13 3-9 9 13-5 9zM1484 657l-14-17 2-7 15 11-3 13zM740 652l-5-4 1-7 7 3-3 8zM1900 738l-12-6-2-16 6-12 18-20-3-20 5-16 16-3 12 11 3 16-25 48-18 18zM424 685l-6-13 6-19 9 7 3 12-4 8-8 5zM752 676l-5-4-1-8 6-7 8 7-8 12zM488 688l-8 2-8-6 0-15 8 0 8 19zM572 710l-8-3-12-27 0-12 4-3 18 27-2 18zM120 679l-4 0 0-9 4 9zM56 770l-9-2-26-36-7-28 6-10 12 1 13 25 5 32 8 12-2 6zM1824 708l-8 0 0-9 8 1 0 8zM640 732l-11-12 7-15 12 7-1 12-7 8zM108 777l-4-17 4-41 4-5 12 7 8-7 2 14-14 13-12 36zM1568 738l-4-6 8-5 2 5-6 6zM1948 776l-16 2-6-10-1-28 11-12 12 4 10 16-2 16-8 12zM1284 778l-16-10-6-20 6-9 20-6 7 7 0 12-5 20-6 6zM1616 780l-19 0 11-24 4 0 4 24zM1004 780l-18 0 10-14 8 14zM1132 780l-15 0 3-11 11-1 1 12zM1752 780l-15 0 7-12 9 4 2 8-3 0zM1644 780l-23 0 5-8 10-2 6 2 2 8zM1704 780l-5 0 5-8 3 8-3 0z"/>
<path fill="#d5e4ee" fill-rule="evenodd" d="M112 72l-12-7 0-21 12-9 4-35 11 0 11 8 1 8-8 16-15 8 2 24-6 8zM152 6l-5-6 9 0-4 6zM660 61l-8 2-29-23-2-8 9-32 38 0 7 8 2 16-9 28-8 9zM2096 14l-9-14 9 0 0 14zM432 69l-16-5-7-28 3-15 12-8 14 7 10 20-4 19-12 10zM1480 252l-13-8 1-20 33-24 3-8 16-7 9-13 3-20 20-32 24-11 8-9 12-33 4-38 8 4 20-2 10 13 4 24-22 56-16 10-28 32-31 42-9 20-56 24zM268 72l-16 1-12-7-4-18 8-11 16-3 10 6 3 20-5 12zM1048 80l-12 2-9-14-3-24 8-11 8 1 10 14 2 20-4 12zM1552 115l-12-1-15-38 15-26 16-9 28 10 4 9-15 12-21 43zM1816 76l0-7 4 3-4 4zM536 141l-12-19-16 4-12-5-5-13 5-12 16 3 16 18 12 4 4 11-8 9zM1264 226l-16-2-5-16 24-64 11-16 10-4 9 4 1 12-28 80-6 6zM1788 289l-16-1-24-14-16 0-7-6 3-9 16-7 12-28-6-48 2-14 20-32 20-9 16 4 9 11-1 8-12 10-4 10-5 36 9 36 20 36-5 4-19 0-12 13zM84 185l-15-9-9-20 5-20 15-10 12 7 5 15-3 24-10 13zM304 148l-8 2 0-9 13-13 3 8-8 12zM1404 146l-4-1-4-9 4-9 5 9-1 10zM1468 173l-8-9 8-8 7 8-7 9zM276 224l-8 2-9-6-23-35-18-13 2-9 8-3 12 13 28 11 15 28-7 12zM1084 204l-8 3-8-10-14-29 2-7 28 11 5 16-5 16zM1416 212l-8 4-9-4-2-8 7-10 12-2 7 4-7 16zM340 222l-8-10 4-13 4 0 5 9-5 14zM644 228l-7-4-2-8 5-9 8-3 5 12-9 12zM76 256l-12-3-4-18 24-13 8 22-5 8-11 4zM1092 261l-5-1-2-8 1-24 6-6 8 4 3 10-3 14-8 11zM484 256l-8-4-4-12 3-12 5-4 10 12-6 20zM316 337l-16-1-15-8-3-24 6-8 8-1 12 15 4 0 20-42 20-20 8 1 3 11-5 36-18 28-24 13zM112 296l-16 3-13-7-4-20 9-17 16-2 14 11 3 16-9 16zM1124 294l-7-6 3-9 7 9-3 6zM1636 384l-4-16 4-9 6 13-6 12zM2072 453l-12 3-12-8-18-48-2-20 16-14 12 2 10 12 15 56-9 17zM844 428l-16 0-8-5-2-35 10-18 32 0 7 10 0 24-11 16-12 8zM1596 410l-6-6-4-28 6-7 12 6 3 9-3 17-8 9zM156 429l-10-5-5-16 3-16 8-9 8 6 4 15-1 16-7 9zM660 492l-8-3 0-5 16-30 20-9 16 3 27-16 3-4-2-20 7-16 17-10 12 2 7 12 1 20-20 32-16 6-16 0-12 13-32 20-20 5zM1396 541l-16-5-8-12 13-32 3-20 4-4 16 11 36-13 5-6-15-28 5-28 29-13 20 10 8 11-4 12-8 3-20-14-6 3-2 12 8 14 20-10 8 3 7 13-3 13-16 20-64 38-20 22zM1244 420l-8 2-5-10 1-13 8-5 8 10-4 16zM416 469l-14-5-4-16 31-40 11-6 10 10 1 20-24 32-11 5zM1020 445l-8-5 0-13 12-12 12-1 4 8-2 10-18 13zM1084 452l-5-4-1-12 3-8 7-4 6 16-3 8-7 4zM192 448l-12 2-3-6 7-9 12-4 4 5-8 12zM1252 459l-6-11 2-15 4 0 4 11-4 15zM1024 560l-12-1-6-7 2-20 44-29 60-48 12-1 8 6 3 12-19 23-49 33-27 26-16 6zM2012 517l-12 1-30-34-4-12 10-13 15 1 22 32 5 16-6 9zM376 505l-12-3-5-10 7-16 14-8 8 6 2 14-14 17zM1848 497l-8-7 0-14 8 21zM1624 515l-10-3-5-12 2-12 9-11 8 5 4 10-2 16-6 7zM1928 613l-16-2-8-7-9-16 0-12 21-28 4-26 12-2 16-14 16-7 14 17 1 20-27 57-24 20zM1336 541l-12-4-5-9 1-18 8-9 12 7 8 12-1 12-11 9zM1600 546l-8 1-7-19 3-18 8-7 9 17-5 26zM80 557l-1-9 5-6 1 10-5 5zM1688 564l-8-1-1-7 5-8 12-3 1 11-9 8zM488 612l-16-6-3-6-2-24 5-11 8 3 5 8 3 36zM712 649l-8 0-10-9-5-16 15-47 16-10 5 9-10 24 4 36-7 13zM1844 621l-8 2-4-5-6-26 3-16 11-9 8 6 6 19-10 29zM376 581l-5-5 1-5 8 5-4 5zM236 608l-12 2-6-10 2-14 12-8 8 3 3 7-1 12-6 8zM344 684l-12-12-6-28-14-28-1-16 9-9 8 0 6 9 1 40 10 28-1 16zM4 663l-4 0 0-52 4-16 4 2 2 15-1 44-5 7zM1520 620l-9 0-2-8 6-16 9-3 10 7 2 8-16 12zM2096 780l-89 0-22-20-5-12 7-16-26-56-5-72 20-6 16 5 9 13 13 48 15 28 19 16 24 1 16 10 8 16 0 45zM1872 661l-8-3-5-18 1-16 8-14 8 7 7 19-2 16-9 9zM1760 693l-16 1-8-14 0-16 12-26 12 7 6 15 0 24-6 9zM1928 685l-12-2-7-11 2-16 9-8 12 1 9 15-2 12-11 9zM428 678l-4 0-3-6 3-10 7 6-3 10zM360 749l-12-1-7-24-1-16 8-16 24 40-1 8-11 9zM1904 734l-8 1-5-3 0-20 13-16 16-4 0 20-16 22zM44 750l-4 2-8-6-12-22-4-20 8-9 8 3 13 26-1 26zM1772 721l-8 2-4-3-1-12 5-7 8 1 3 6-3 13zM640 721l-4-1 0-5 4 0 0 6zM108 762l2-30 6-8 3 8-11 30zM1940 776l-8-4-6-20 2-13 8-8 12 5 7 16-3 16-12 8zM1284 769l-8 2-10-11-1-12 7-7 12-2 6 5 1 12-7 13zM1752 780l-13 0 5-9 8 9zM1000 780l-9 0 5-6 4 6zM1608 780l-8 0 4-8 4 2 0 6zM1128 780l-6 0 2-4 4 4z"/>
<path fill="#caddf4" fill-rule="evenodd" d="M656 58l-5-2-19-16-2-8 2-20 3-12 29 0 8 6 3 6 1 12-8 21-4 7-8 6zM2096 10l-4-3-2-7 6 0 0 10zM124 30l-5-2-3-8 0-8 4-7 4 0 4 3 4 8-2 8-6 6zM432 64l-8 0-4-2-8-22-1-8 3-8 10-7 8 2 4 3 8 18-2 16-10 8zM1488 248l-12 2-7-6-3-8 3-12 34-24 3-8 14-6 4-5 5-9 5-20 22-32 20-10 8-9 13-29 8-28 11-10 8-2 4 1 8 11 6 24-23 56-15 9-20 22-32 45-8 8-3 12-5 6-12 2-16 8-20 12zM264 71l-12 0-10-7-3-8 1-8 8-10 12-2 4 2 5 6 2 16-3 7-4 4zM1044 80l-8-1-9-15-1-20 6-8 8 1 6 7 4 8 0 20-6 8zM112 64l-4 2-4-3-2-7 2-10 4-1 4 7 0 12zM1552 111l-8 0-4-2-8-17-4-16 12-22 8-7 8-2 8 4 16 2 5 5 0 4-5 7-10 5-5 16-9 19-4 4zM512 122l-8 0-7-6-2-8 3-8 10 0 8 8 2 8-6 6zM1792 284l-8 4-12-3-12-6-16-15 14-40-6-44 1-12 21-36 10-7 8-2 16 4 7 9-1 8-10 9-5 11-4 40 1 12 7 20 10 12 8 24-5 3-16-3-8 12zM1260 226l-12-3-4-7 0-8 12-36 13-28 11-17 4-2 8 1 6 6-1 8-16 40-11 36-6 8-4 2zM84 181l-4 0-8-5-6-8-4-12 1-8 4-12 5-5 8-2 8 3 4 4 3 12-2 20-4 8-5 5zM232 176l-10-4-2-4 3-4 5-1 4 5 0 8zM1468 168l-2-4 2-2 2 2-2 4zM1080 201l-4 0-4-3-5-10-3-12 4-5 12 1 5 8 1 12-6 9zM276 222l-8 1-20-22-8-17 3-4 13 0 12 9 13 23-1 6-4 4zM1408 212l-7-4 0-8 7-5 8 1 3 4-1 4-6 7-4 1zM340 218l-4-1-1-5 1-8 4-1 2 5 1 4-3 6zM644 225l-4-2-2-7 5-8 5 0 3 8-3 7-4 2zM84 250l-8 1-6-3-1-4 3-8 8-9 4 0 5 9 0 8-5 6zM484 250l-4 0-4-6 0-10 4-5 4 1 3 6-3 14zM1092 254l-4-6 1-8 3-9 4-1 3 10-3 10-4 4zM316 332l-8-1-4 3-4 0-12-6-5-12 1-12 4-5 8-1 6 6 6 12 4 0 7-20 13-24 20-21 7 1 3 8-6 36-19 28-21 8zM104 296l-8 0-8-3-5-9-1-12 2-7 4-5 8-5 8 1 7 4 7 12 1 8-3 7-4 5-8 4zM1736 266l-3-2 5 0-2 2zM2072 452l-12 3-10-7-19-52-1-16 6-8 8-4 8 0 11 12 16 56-1 8-6 8zM848 424l-8 3-12-1-8-7-2-15 2-16 4-9 8-7 24 1 4 1 4 6 2 12-2 12-7 12-9 8zM1596 403l-4-7 0-20 4-1 4 3 3 6-2 12-5 7zM156 426l-8-3-5-15 1-12 4-7 4-2 4 1 4 4 3 12-2 16-5 6zM672 488l-12 2-5-2-1-4 6-16 8-12 8-6 12-3 8 1 4 6 12-10 20-11 4-5-2-16 6-17 8-7 8-3 8 0 4 2 6 13 0 16-5 12-13 17-20 8-12 0-12 12-16 6-16 14-8 3zM1396 539l-8 0-11-7-4-8 2-8 17-30 40-13 16-9 2-4-15-28 5-28 5-4 23-8 20 10 7 10-3 10-8 3-16-13-4-1-8 5-1 12 0 4 9 13 20-10 8 3 6 10-2 12-20 23-60 35-20 21zM1240 420l-6-4-2-8 3-8 5-3 4 3 2 8-2 8-4 4zM424 464l-8 3-8-1-7-6-2-8 3-8 29-36 9-4 4 2 4 6 1 16-3 8-22 28zM1020 442l-4 0-3-6 3-12 12-9 8 2 3 7-3 8-4 3-8 0-4 7zM1088 449l-4 1-5-6 1-12 4-5 4 0 4 9 0 8-4 5zM184 448l-4-4 2-4 6-5 8 0 0 5-3 4-9 4zM1252 456l-4-4 0-16 4 0 3 8-3 12zM1028 557l-12 2-8-6-2-13 4-8 43-28 59-47 8-2 10 5 3 4 0 8-17 20-20 17-20 11-36 30-12 7zM2012 516l-8 2-4-1-25-29-7-12 1-8 3-5 12-4 7 5 24 36 2 8-5 8zM376 502l-9-2-3-4-1-8 6-12 11-5 6 5 1 12-3 8-8 6zM1624 513l-4 1-5-2-5-12 2-12 4-6 4-3 7 5 3 8 0 12-6 9zM1340 536l-4 2-8-1-7-9 0-16 7-8 8 3 9 13 1 8-6 8zM1932 609l-12 2-12-5-10-14-2-12 24-32 4-18 24-23 8-4 8-2 13 15 2 8-2 12-8 20-17 32-20 21zM1596 545l-4-1-4-7-2-13 3-12 3-5 4-1 6 6 3 12-4 16-5 5zM1688 562l-6-2-1-4 3-5 8-3 3 4-3 7-4 3zM1844 617l-4 2-6-3-4-8-3-16 3-16 6-6 4-1 8 7 4 12-2 16-6 13zM476 593l-4-9 1-8 3-3 5 3 2 8-3 7-4 2zM712 644l-4 2-8-4-7-10-1-8 12-38 4-7 4-2 4 3-4 24 4 28-4 12zM232 609l-8-1-5-12 5-12 8-4 7 4 3 8-2 10-8 7zM328 634l-4-1-4-4-6-17 0-12 6-6 8 2 2 4 2 20-4 14zM1528 613l-8 3-6-4 0-8 6-8 8 3 3 5 0 4-3 5zM2096 780l-86 0-21-20-5-12 6-16-15-28-11-28-1-24-6-32 1-8 6-7 8-4 12 0 12 9 5 10 6 24 11 32 6 12 11 12 13 10 26 2 14 11 8 18 0 39zM1876 656l-8 2-4-4-3-10 0-16 3-9 4-5 4 1 4 5 5 12 1 12-6 12zM1752 692l-10-4-4-16 6-22 4-6 4-1 9 9 3 20-4 16-8 4zM1932 680l-4 2-8-1-8-8 0-15 4-6 4-2 12 1 7 9 0 12-7 8zM340 672l-4-1-3-7-1-4 4-4 5 8-1 8zM40 745l-4 0-4-4-10-17-4-20 2-4 4-2 4 0 4 3 9 19 3 16-4 9zM1900 733l-4 0-4-5-1-8 2-8 11-12 8-3 4 1 3 6-3 12-8 12-8 5zM360 746l-8 0-4-6-5-24 1-9 4-4 4 1 4 5 11 19 0 12-7 6zM1768 718l-4-1-1-5 1-4 4-2 4 6-4 6zM1944 772l-8-1-6-11-1-16 7-9 8 1 8 12 0 15-8 9zM1280 765l-8-2-4-7 1-8 7-4 7 0 4 4-2 12-5 5zM1748 780l-6 0 2-4 4 1 0 3z"/>
<path fill="#b1c4e0" fill-rule="evenodd" d="M660 51l-4 1-4-2-13-18-2-12 1-12 2-4 5-4 19 2 9 10 1 8-1 8-9 19-4 4zM2096 5l-3-5 3 0 0 5zM432 58l-8 0-8-14 0-16 8-6 8 2 4 5 4 11-2 12-6 6zM1484 248l-8 0-7-8-1-8 3-8 21-14 13-10 4-8 11-5 4-5 12-30 20-29 4-4 16-8 8-9 25-58 11-9 8 1 7 8 6 16 0 8-23 56-14 8-20 22-32 45-9 9-3 10-4 6-12 2-40 22zM260 69l-12-3-5-6 0-12 9-9 10 1 6 8 0 13-4 6-4 2zM1044 78l-4 0-5-2-7-16 0-16 4-5 4-2 8 6 5 13 0 12-5 10zM1552 107l-8 0-8-10-5-17 3-12 10-14 8-5 28 5 3 6-2 4-10 4-3 3-4 17-12 19zM512 116l-8 2-4-5 0-6 4-3 4 2 5 6-1 4zM1260 224l-8 0-7-8 0-8 7-21 14-35 11-20 7-6 8 1 5 5-1 8-16 40-12 36-8 8zM1788 284l-12 0-16-8-10-12-1-8 11-32-6-44 1-12 22-36 11-7 8-1 11 4 6 8-1 7-8 8-6 13-4 44 8 28 10 13 5 19-1 3-3 1-13-2-6 10-6 4zM84 177l-4 1-8-6-8-16 4-17 4-5 8-3 9 5 4 12-1 18-4 8-4 3zM1080 195l-4 0-5-7-1-8 2-4 8 2 3 6 0 4-3 7zM272 220l-4-1-20-23-2-8 2-3 8-1 16 15 6 13-2 6-4 2zM1408 208l-4-4 4-5 4 1 1 4-5 4zM644 220l-2-4 2-4 3 4-3 4zM84 241l-4 2-3-3 3-6 4 0 0 7zM320 328l-4-1-2-7 8-28 14-23 16-15 4 0 3 6-2 8 0 16-3 12-18 26-16 6zM104 293l-12-1-4-4-4-8 1-8 3-8 8-6 12 4 7 10-1 12-10 9zM304 329l-4 2-8-3-6-8 0-12 6-7 7 3 5 8 2 8-2 9zM2068 453l-8 0-8-5-21-56 1-13 12-10 8 1 10 10 12 40 4 20-3 8-7 5zM844 424l-16 0-4-2-4-7 0-24 4-9 8-7 24 1 5 4 2 8 1 12-3 8-9 11-8 5zM664 488l-4 0-4-4 0-4 8-18 5-6 7-5 12-3 4 1 8 8 12-11 16-8 9-6 1-4-2-16 6-16 6-6 8-3 8 0 4 3 5 10 0 16-4 8-14 20-19 7-12-2-12 13-20 8-12 13-16 5zM156 422l-4 0-4-3-3-11 2-12 5-6 5 2 4 12-1 12-4 6zM1396 537l-12-2-5-3-4-8 1-8 12-19 16-13 32-11 14-9 1-4-14-28 5-28 26-11 20 11 6 8-2 9-8 2-16-13-4 0-9 6-2 12 1 4 10 14 4 0 16-9 8 3 5 8-3 12-18 21-60 35-20 21zM1240 416l-4-3-1-5 1-4 4-3 3 7-3 8zM420 465l-8 1-8-4-4-6 1-8 31-39 8-4 4 3 4 7-1 13-18 28-9 9zM1020 438l-4 1 0-11 4 0 3-8 5-3 8 3 1 8-3 4-10 1-4 5zM1088 446l-4 2-4-7 0-5 4-7 4 1 3 6-3 10zM1252 453l-4-5 0-4 0-4 4-1 0 14zM1024 557l-8 0-8-7-1-10 5-8 43-28 57-46 8-2 8 4 3 4 0 8-18 20-17 15-20 11-36 30-16 9zM2008 517l-7-1-5-4-25-32-2-8 3-7 4-3 8-2 4 2 24 34 3 12-3 7-4 2zM380 496l-8 2-5-6 1-9 8-8 4 0 4 5 1 8-5 8zM1620 513l-6-5-3-12 2-8 7-7 6 3 4 12-3 12-7 5zM1928 608l-12 0-8-4-8-12-1-12 24-32 7-16 11-16 11-10 12-2 8 7 5 9-1 16-8 19-19 33-14 16-7 4zM1340 532l-8 3-8-7-2-12 6-9 5 1 8 8 3 8-4 8zM1596 542l-4-1-3-5-2-12 3-12 6-3 4 3 3 12-2 12-5 6zM1844 613l-4 3-4-2-5-10-2-12 3-15 8-5 8 7 2 9 0 12-6 13zM236 605l-8 3-4-2-3-6 0-8 7-9 8 1 4 5 1 7-5 9zM324 624l-4-3-4-12 0-6 4-5 4 1 3 5 0 12-3 8zM708 641l-4 0-5-5-4-12 5-15 4-7 4-3 5 29-1 10-4 3zM1524 608l-4 1 0-6 3 1 1 4zM2096 780l-83 0-21-20-4-12 6-16-18-33-10-27-1-20-5-28 1-8 5-8 8-4 10 0 11 8 21 64 6 12 10 11 16 12 24 2 15 11 9 24 0 32zM1876 653l-4 3-4-1-6-11 1-16 5-10 4 1 4 4 4 9 0 12-4 9zM1752 689l-8-4-4-13 4-16 4-6 4-2 4 3 3 5 2 16-2 12-7 5zM1932 677l-4 2-8 0-6-7-1-12 7-8 9 0 8 8 1 8-6 9zM36 739l-4-3-8-13-2-15 2-6 4 0 4 4 8 18 0 11-4 4zM1904 729l-4 1-5-2-1-12 6-10 8-5 4 0 4 3-1 8-3 8-8 9zM360 741l-8-1-5-16 1-10 4-1 4 3 5 8 2 12-3 5zM1944 769l-8-2-5-11 1-12 4-5 4-1 8 5 3 9-2 12-5 5z"/>
<path fill="#96a7c7" fill-rule="evenodd" d="M660 45l-4 0-4-3-8-13-2-9 3-12 11-5 12 5 4 8-1 12-11 17zM428 48l-4 0-5-8 1-8 4-2 4 1 3 5 0 8-3 4zM1488 246l-8 1-8-5-3-10 3-8 35-24 4-8 9-4 4-5 14-31 11-16 11-14 16-10 8-9 28-59 8-6 8 0 5 6 7 16 1 8-23 56-16 8-18 20-32 47-10 9-6 13-12 3-36 22zM260 65l-9-1-5-8 1-8 5-5 8-1 5 6 0 12-5 5zM1044 75l-4 1-4-2-7-14 0-12 3-6 4-2 8 6 4 10-1 12-3 7zM1552 103l-8 0-8-11-3-12 3-12 8-10 8-5 8 3 8-2 10 2 2 4-3 4-11 4-2 17-8 14-4 4zM1264 220l-8 3-7-3-3-4 0-8 13-36 13-28 8-14 8-3 7 5 1 5-32 83zM1788 282l-12 0-12-6-9-8-3-12 10-32-4-24-2-28 20-36 10-8 10-2 8 2 7 8 1 4-8 9-7 15-4 44 7 28 12 16 2 12-2 4-13 0-7 11-4 3zM84 174l-4 0-8-5-5-13 3-16 6-5 4-1 8 4 4 10-2 16-6 10zM268 211l0-6 2 3-2 3zM324 325l-4-1-3-8 7-24 12-20 15-8 1-5 3 1-3 8 3 16-3 12-13 20-7 6-8 3zM104 289l-11-1-6-8 2-12 7-6 8 1 7 9 1 8-8 9zM300 327l-8-2-4-5 0-11 4-5 7 4 4 8 0 8-3 3zM2064 453l-8-3-5-6-19-55 1-9 3-4 8-5 8 1 8 8 17 56-1 7-3 5-9 5zM848 420l-8 3-8 0-7-3-3-4-2-12 1-12 3-8 8-7 20 0 8 7 2 12-2 8-4 8-8 8zM740 448l-8 0-3-4 1-4 10-8-2-16 2-12 4-7 6-5 6-2 8 0 4 4 4 10-3 16-17 24-12 4zM156 418l-4 0-4-6 0-12 4-5 4 1 3 8-3 14zM1396 535l-8 0-10-7-2-8 3-8 13-16 16-12 32-11 12-9 1-4-15-28 3-24 3-5 6-3 18-6 4 1 19 13 2 4-1 7-4 3-4 0-16-13-4 0-8 4-2 3-2 16 12 16 4 0 16-9 8 3 4 10-3 8-17 20-36 22-20 10-24 23zM416 465l-7-1-5-4-2-4 1-8 29-37 8-4 4 3 3 6-2 12-21 32-8 5zM1028 432l-4-2-1-6 4-4 5 0 3 4-1 4-6 4zM1084 444l0-11 4 1 0 8-4 2zM716 456l-8 3 0-3 4-6 4-3 4 1-4 8zM676 484l-8 2-8-1-2-5 2-8 12-17 12-5 8 1 3 5-1 8-8 12-10 8zM1020 556l-8-2-4-6 1-8 5-8 10-5 33-23 55-44 8-3 8 5 3 6-3 7-32 30-20 12-40 31-16 8zM2012 513l-8 3-4-2-16-18-13-20 0-8 4-4 5-2 8 2 24 35 2 9-2 5zM376 492l-4-4 4-8 5 4-1 4-4 4zM1624 510l-4 1-4-2-4-9 2-12 6-5 4 1 4 8 0 11-4 7zM1932 604l-12 3-12-6-6-9-1-12 25-32 17-32 13-10 8 0 7 6 5 8 0 13-8 19-12 21-10 15-14 16zM1336 531l-4 1-4-2-3-6 0-8 3-5 6 1 6 8 0 7-4 4zM1600 536l-4 4-4-2-4-10 2-12 2-4 4-1 6 9-2 16zM1840 612l-4-2-3-6-3-12 2-12 4-5 4-1 7 6 2 12-2 12-7 8zM232 606l-7-2-3-8 3-8 7-3 5 3 2 8-3 7-4 3zM2096 780l-80 0-20-20-5-12 6-16-20-36-9-24-5-48 1-8 8-8 12-2 8 5 4 5 19 60 13 21 20 15 20 2 8 3 8 7 9 20 3 15 0 21zM708 635l-4 0-5-7 1-10 4-3 4 2 2 7-2 11zM1872 653l-4-1-5-12 1-10 4-8 4 0 4 4 3 10-2 12-5 5zM1752 684l-4 0-3-4-2-8 5-16 4-2 4 4 2 10-2 12-4 4zM1928 677l-8-1-5-8 1-9 8-6 8 3 4 8-2 8-6 5zM1904 726l-4 1-4-3 0-7 4-8 8-5 4 2 1 6-4 8-5 6zM32 729l-5-9 1-9 4 3 4 9-1 5-3 1zM1944 765l-6-1-4-8 2-12 4-2 5 2 4 8-1 8-4 5z"/>
<path fill="#8798bb" fill-rule="evenodd" d="M660 37l-4 0-4-5-6-12 2-8 8-6 8 1 6 9-1 12-9 9zM1488 244l-8 2-8-6-2-8 2-5 4-5 20-12 13-10 3-7 8-4 9-13 10-24 11-16 10-12 21-16 31-60 8-8 8 1 11 19 1 8-23 56-16 8-17 19-32 47-11 10-5 11-4 3-8 1-36 21zM1040 73l-4-2-5-11 0-12 5-5 7 5 3 8-1 12-5 5zM260 59l-4 1-5-4 2-8 7 0 2 4-2 7zM1552 99l-8-1-4-4-4-14 4-13 6-7 6-3 4 1 6 6 2 12-4 14-8 9zM1572 62l-9-2 5-2 7 2-3 2zM1784 281l-8-1-12-6-6-6-4-8 1-8 9-28-1-12-4-12 1-8-2-16 18-38 12-9 8-1 10 4 3 8-5 6-8 22-4 42 7 26 9 12 3 12-3 6-8-1-4 2-4 9-8 5zM1260 221l-9-1-3-4 0-8 12-36 12-26 8-14 8-4 6 4 0 8-17 40-12 36-5 5zM84 170l-8-1-4-5-3-8 3-14 8-5 6 3 4 8-1 12-5 10zM100 285l-4-1-4-4 0-8 4-5 7 1 4 8-3 7-4 2zM328 321l-7-1-2-4 4-20 13-21 8-6 4 0 5 7-1 16-12 21-12 8zM296 323l-4-3 0-9 4 1 2 4 1 4-3 3zM2068 450l-8 1-7-7-19-52 1-12 9-7 8 1 4 2 4 8 15 52-1 8-6 6zM844 420l-8 2-8-2-4-4-3-8 0-12 3-9 4-5 8-4 17 2 4 4 3 8-3 16-6 8-7 4zM744 444l-9 0 0-4 9-8-4-12 1-12 7-12 12-4 4 1 5 7 0 16-5 9-8 7-4 9-8 3zM1396 533l-4 1-8-2-6-8 1-8 9-13 20-17 32-12 14-10 2-4-5-4-12-24 5-28 24-9 20 11 5 6-1 5-4 4-5-1-15-13-4 1-9 4-4 16 0 4 9 15 4 2 4 1 16-9 7 3 3 8-5 12-16 16-57 33-20 20zM420 462l-4 2-8-2-5-6 1-6 28-37 4-3 4-1 5 7-1 9-12 22-12 15zM668 485l-5-1-3-4 4-13 12-12 12-3 4 4-3 12-9 12-12 5zM1024 554l-8 0-6-6 0-8 5-8 13-6 87-66 9 0 4 4 0 8-32 32-28 17-44 33zM2008 513l-4 1-8-6-20-26-5-10 5-7 8-2 4 3 20 29 4 13-4 5zM1624 508l-4 2-3-2-3-8 2-12 4-3 5 3 2 8-3 12zM1928 604l-12 0-8-5-6-11 2-8 24-31 16-33 12-8 8 0 10 12 2 8-2 8-10 21-12 20-15 19-9 8zM1596 537l-4-2-2-11 2-9 4-1 4 4 1 6-1 8-4 5zM1332 526l-4-6 4-3 3 7-3 2zM1840 608l-4-2-4-14 3-12 5-3 5 3 3 12-3 12-5 4zM228 604l-4-4 0-7 4-5 4-1 4 3 1 6-5 8-4 0zM2092 780l-73 0-20-20-4-12 5-16-22-40-7-20-6-48 3-8 4-5 12-2 9 7 22 64 13 19 20 15 22 2 14 11 6 13 6 28-1 12-3 0zM1872 650l-4-2-3-12 3-10 4 0 4 5 1 9-1 6-4 4zM1928 674l-8-1-3-5 1-8 6-4 8 3 2 5-2 7-4 3zM1904 721l-4 1-1-6 5-6 4 0 0 6-4 5zM1944 757l-4-1 0-6 4 2 0 5z"/>
<path fill="#7485ab" fill-rule="evenodd" d="M660 34l-8-5-3-9 2-8 5-3 8 2 4 6-2 11-6 6zM1484 244l-4 0-6-4-2-5 1-7 3-4 16-9 18-15 2-5 8-5 9-14 6-16 16-24 31-28 33-60 5-5 4-1 4 1 9 13 2 12-23 56-16 8-16 17-32 48-12 11-4 9-4 3-8 1-40 23zM1040 69l-4-2-3-7 0-8 3-5 4 1 4 8 0 9-4 4zM1552 94l-8-2-5-12 5-12 8-6 4 1 4 5 1 8-1 8-8 10zM1256 221l-4-2-4-7 8-26 20-44 6-10 6-2 4 2 1 4-5 17-13 27-11 36-8 5zM1788 277l-8 1-12-4-7-6-4-8 0-8 9-28-1-12-5-12 1-24 15-36 12-9 8-1 8 3 3 7-12 28-4 44 6 24 7 8 4 12-1 4-3 3-8-2-3 11-5 5zM84 164l-4 2-4-2-4-8 0-8 4-6 4-2 5 4 3 8-4 12zM332 317l-4 1-5-2-1-8 2-9 12-22 8-5 4 1 3 7-1 12-10 18-8 7zM2068 449l-8 0-6-5-18-52 0-12 8-6 8 1 6 9 15 52 0 8-5 5zM836 420l-8-2-4-4-2-10 1-12 9-11 16-1 9 8 1 8-1 8-9 12-12 4zM756 429l-8 1-4-6-2-12 6-12 12-4 6 4 2 10-4 11-8 8zM1392 532l-8-2-5-6 1-8 8-11 21-17 39-16 11-12-7-4-12-24 4-25 24-11 20 12 3 4 0 4-3 4-4 0-16-15-12 4-4 3-3 16 0 4 11 17 8 2 16-8 4 1 4 4 0 8-8 12-12 11-56 32-24 21zM420 460l-4 2-8-2-3-8 19-26 12-13 4 0 2 7-1 8-21 32zM676 480l-12 1-2-5 2-6 12-14 8-2 4 2 1 4-2 8-11 12zM1024 552l-8 1-5-5 0-8 5-7 16-8 84-64 4-1 6 4 0 8-30 30-35 22-37 28zM2008 510l-4 1-4-2-16-18-10-15-1-4 3-5 8-2 4 4 20 29 2 6-2 6zM1620 508l-4-4-1-8 1-6 4-3 4 2 2 7-1 8-5 4zM1928 602l-8 1-9-3-6-8 0-8 24-32 17-36 10-6 8 0 9 10 1 8-2 9-16 31-18 24-10 10zM1596 533l-4-3-1-6 1-4 4-3 3 7-3 9zM1840 603l-4-2-2-9 1-8 5-4 4 3 1 9-1 8-4 3zM232 600l-5 0-1-4 2-5 6 1-2 8zM2092 780l-70 0-18-16-6-16 5-16-23-42-6-18-6-44 1-8 7-7 8-1 8 6 10 34 13 32 7 12 22 18 24 3 14 11 7 16 0 12 4 12-1 12zM1872 644l-4-2 0-6 0-3 4-2 2 9-2 4zM1928 670l-4 1-4-3 0-5 4-4 4 0 3 5-3 6z"/>
<path fill="#61729b" fill-rule="evenodd" d="M660 30l-5-2-3-7 1-5 3-3 4 0 4 3 1 4-1 6-4 4zM1488 241l-8 1-4-2-2-4 1-8 17-10 28-27 10-15 8-20 13-20 29-23 32-57 6-8 6-4 12 12 3 12-24 56-17 8-14 16-4 8-28 40-14 12-4 8-30 13-16 12zM1040 62l-4-2 0-5 4 1 0 6zM1552 87l-4-1-3-6 3-8 4-3 4 2 1 5-1 7-4 4zM1260 218l-8-1-2-5 6-21 20-45 8-12 4-1 2 3-2 12-15 28-5 23-8 19zM1788 274l-8 2-8-2-8-6-4-6 0-10 9-28-1-8-7-16 2-24 5-8 7-24 5-6 16-6 7 4 0 4-9 28-5 44 6 24 9 16 0 4-10 4-2 9-4 5zM332 314l-4 1-3-3 1-12 10-20 8-4 5 4-1 12-8 15-8 7zM2068 446l-4 2-7-4-17-45-4-15 2-4 6-4 8 1 4 6 15 53 1 4-4 6zM844 417l-12 1-4-2-4-8 1-16 3-5 8-5 12 1 4 2 4 7 0 8-3 8-9 9zM1396 528l-8 2-7-6 1-8 10-12 20-15 36-14 15-15-9-4-10-20 0-22 2-6 6-4 11-4 7 0-21 12-3 20 14 19 8 2 12-7 8 0 3 6-3 8-12 14-43 26-13 5-24 23zM756 425l-8 0-3-9 3-11 8-3 6 2 2 4-1 8-7 9zM1488 418l-4 0-14-14 2-3 16 9 2 2-2 6zM420 456l-4 4-4 0-4-4-1-4 17-22 10-6 2 4-1 4-15 24zM676 478l-8 1-3-3 1-4 8-12 6-3 4 1 2 2-1 8-9 10zM1024 550l-4 1-7-3 0-8 3-6 12-3 16-12 4-5 28-19 40-31 6 0 3 4-2 4-28 28-71 50zM2004 508l-8-6-12-14-8-14 2-6 6 0 20 27 4 9-4 4zM1620 506l-4-5 0-5 4-7 4 3 1 4-1 7-4 3zM1928 600l-8 2-8-4-5-6 0-8 24-32 17-36 8-5 8 1 5 4 4 8-1 8-4 11-16 28-24 29zM1840 595l-3-3 3-6 2 6-2 3zM2088 780l-62 0-19-16-6-16 6-16-23-41-7-19-6-44 5-11 8-2 6 5 9 32 16 36 8 12 21 16 26 4 13 12 4 12 0 12 4 12-1 12-2 0z"/>
<path fill="#566892" fill-rule="evenodd" d="M1484 240l-4 0-4-4 2-8 14-4 20-20 12-16 13-28 15-23 14-9 16-16 31-56 7-6 8 0 8 8 2 10-10 27-14 29-19 8-11 13-5 11-27 40-16 12-4 7-36 13-12 12zM1784 272l-12-2-9-10 1-8 9-28-1-8-8-8-2-8 14-56 8-7 12-1 4 5 1 7-8 16-3 40-5 12 12 32 0 4-5 1-3 15-5 4zM1256 213l0-10 4-11 4-3 0 11-4 11-4 2zM332 309l-4-5 3-12 6-8 7-2 1 6-1 7-4 7-8 7zM2064 444l-4-2-20-51-1-7 5-5 7 1 2 4 14 52 0 4-3 4zM844 414l-12 1-6-7-1-8 2-8 9-7 12 1 5 6 0 12-9 10zM1464 476l-6 0 2-8 11-12 13-8 4 4-8 15-16 9zM676 473l-4 0-1-5 5-5 4 0 0 5-4 5zM1056 524l-4 2-6-2 1-8 25-17 8-3 15-12 13-5-16 20-8 4-3 5-25 16zM1396 524l-8 3-4-4 1-7 7-8 22-16 21-8 9 0-4 8-24 11-20 21zM1928 597l-8 2-6-3-3-4-1-8 24-32 14-33 8-5 8 0 5 6 2 8-6 16-13 23-24 30zM1020 548l-4-2-1-6 1-4 8-2 7 6-7 7-4 1zM2084 780l-52 0-12-6-10-10-6-16 6-16-1-4-22-40-5-16 0-16-6-24 4-10 4 0 4 5 5 25 26 48 21 16 28 6 12 10 5 12-1 12 4 12-1 12-3 0z"/>
<path fill="#4b5e89" fill-rule="evenodd" d="M1520 214l-4 1-3-3 23-48 16-25 4-5 15-6 12-12 9-22 23-38 9-5 8 3 5 10-1 8-23 52-17 5-12 11-6 16-30 43-12 5-8 8-8 2zM1784 213l-4 2-8-1-6-6-3-8 15-56 6-5 8-1 5 2 3 8-9 20-2 36-5 9zM1780 268l-8-4-1-8 8-16 5-3 4 23-4 8-4 0zM840 412l-8-1-4-7 3-12 9-5 8 3 3 6-3 10-8 6zM1056 520l-4 2-3-2 25-20 4 0 2 5-24 15zM1924 593l-5-1-2-4 7-16 15-20 12-32 5-4 4 0 8 8-4 17-28 41-12 11zM1024 544l-4 1-3-5 3-4 4 0 2 4-2 4zM2080 780l-26 0-22-3-10-5-8-8-4-8-2-8 7-20-19-37-4-11 0-9 4-1 4 4 12 26 4 5 20 13 28 5 12 9 6 12-2 16 4 12 0 8-4 0z"/>
<path fill="#405482" fill-rule="evenodd" d="M1608 126l-8 2-8-1-4-3-3-4 1-12 30-51 8-5 4 1 7 7 0 12-21 48-6 6zM1544 201l-12 2-4-3-3-4 2-12 12-24 17-24 8-4 12 2 6 10-2 8-28 41-8 8zM1780 213l-4 0-8-4-3-5 0-8 14-52 5-4 8-1 4 2 2 7-9 16-1 40-8 9zM844 405l-8 2-3-3-1-4 4-6 4-2 4 1 2 7-2 5zM1952 548l-4 0-1-4 1-12 4-9 4-3 4-1 4 5 0 7-4 10-8 7zM2076 780l-12 0-4-5-12 1-16-3-14-9-5-8-1-8 10-28 38 5 12 7 5 8 2 8-4 16 4 12-1 4-2 0z"/>
<path fill="#34497a" fill-rule="evenodd" d="M1608 125l-8 2-9-3-5-8 1-8 29-49 4-4 8 0 6 5 0 12-21 48-5 5zM1544 200l-8 2-8-4-2-6 2-8 12-23 16-24 8-4 8 1 8 10-1 8-27 40-8 8zM1784 209l-4 2-8-1-4-3-2-7 13-52 2-4 7-4 8 4 0 4-9 16 1 32-4 13zM2052 772l-20-2-8-4-5-6-3-8 1-12 4-8 7-6 12-2 20 5 8 4 6 7 1 8-3 12-8 7-12 5z"/>
<path fill="#2c3e69" fill-rule="evenodd" d="M1604 125l-8 0-4-3-4-6 0-8 29-48 7-5 4 1 4 4 1 8-5 17-16 34-8 6zM1540 200l-6 0-5-4-2-4 2-8 27-45 8-4 8 1 7 8-1 8-30 43-8 5zM1784 158l-2-10 4-4 6 0 0 6-8 8zM1780 209l-8-1-4-8 4-16 8-15 4 9 2 18-1 8-5 5zM2056 764l-16 3-8-2-7-5-4-12 1-8 5-8 5-3 8 0 21 7 6 4 2 8-1 6-12 10z"/>
<path fill="#2b395c" fill-rule="evenodd" d="M1608 121l-8 3-8-4-2-4 0-8 29-48 5-2 5 2 2 8-7 22-16 31zM1544 197l-8 2-6-3-2-4 2-8 27-44 7-4 8 2 5 6-1 8-32 45zM1780 206l-4 1-4-3-1-4 5-16 4 0 3 16-3 6zM2048 757l-8 2-9-3-3-4-1-8 5-8 11 0 9 8 1 8-5 5z"/>
<path fill="#323a53" fill-rule="evenodd" d="M1604 121l-9-1-3-4 0-8 28-45 4-3 5 4-5 20-14 32-6 5zM1540 197l-8-2-2-7 10-20 20-28 4-2 8 1 4 5-2 8-26 39-8 6z"/>
<path fill="#3a3c49" fill-rule="evenodd" d="M1604 117l-8-1-1-8 17-24 3 4-3 12-8 17zM1544 192l-8 2-4-6 8-15 20-28 8-4 4 3 0 6-28 42z"/></g>
<path fill="#fff" fill-rule="evenodd" d="M1219.1,554.7 1219.1,557.5 1218.2,558.5 1215.3,558.5 1215.3,561.3 1214.4,562.2 1211.6,562.2 1211.6,568.8 1210.7,569.8 1207.8,569.8 1207.8,595.2 1210.7,595.2 1211.6,596.1 1211.6,599.0 1214.4,599.0 1215.3,599.9 1215.3,602.7 1218.2,602.7 1219.1,603.7 1219.1,606.5 1218.2,607.4 1215.3,607.4 1215.3,610.2 1214.4,611.2 1207.8,611.2 1207.8,614.0 1206.9,615.0 1204.1,615.0 1204.1,621.5 1203.2,622.5 1200.3,622.5 1200.3,632.8 1203.2,632.8 1204.1,633.8 1204.1,651.7 1206.9,651.7 1207.8,652.6 1207.8,655.4 1214.4,655.4 1215.3,656.4 1215.3,659.2 1218.2,659.2 1219.1,660.1 1219.1,663.0 1236.9,663.0 1236.9,554.7ZM892.9,287.4 892.9,290.2 895.7,290.2 896.6,291.2 896.6,294.0 903.2,294.0 904.1,294.9 904.1,297.8 906.9,297.8 907.9,298.7 907.9,301.5 914.4,301.5 915.4,302.5 915.4,305.3 925.7,305.3 926.6,306.2 926.6,309.0 933.2,309.0 934.1,310.0 934.1,312.8 944.4,312.8 945.4,313.8 945.4,316.6 951.9,316.6 952.9,317.5 952.9,320.3 963.2,320.3 964.1,321.3 964.1,324.1 981.9,324.1 982.9,325.0 982.9,327.9 985.7,327.9 985.7,325.0 986.6,324.1 993.2,324.1 993.2,321.3 994.1,320.3 1015.7,320.3 1016.6,321.3 1016.6,324.1 1019.4,324.1 1020.4,325.0 1020.4,327.9 1023.2,327.9 1024.1,328.8 1024.1,331.6 1030.7,331.6 1031.6,332.6 1031.6,335.4 1034.4,335.4 1035.3,336.3 1035.3,339.2 1038.2,339.2 1039.1,340.1 1039.1,342.9 1045.7,342.9 1046.6,343.9 1046.6,346.7 1053.2,346.7 1054.1,347.6 1054.1,350.5 1060.7,350.5 1061.6,351.4 1061.6,354.2 1071.9,354.2 1072.8,355.2 1072.8,358.0 1075.7,358.0 1076.6,358.9 1076.6,361.8 1098.2,361.8 1099.1,362.7 1099.1,365.5 1101.9,365.5 1101.9,362.7 1102.8,361.8 1105.7,361.8 1106.6,362.7 1106.6,365.5 1109.4,365.5 1110.3,366.5 1110.3,369.3 1113.2,369.3 1114.1,370.2 1114.1,373.1 1116.9,373.1 1117.8,374.0 1117.8,376.8 1120.7,376.8 1121.6,377.8 1121.6,380.6 1124.4,380.6 1125.3,381.5 1125.3,384.3 1128.2,384.3 1129.1,385.3 1129.1,388.1 1131.9,388.1 1132.8,389.1 1132.8,406.9 1135.7,406.9 1136.6,407.9 1136.6,410.7 1139.4,410.7 1140.3,411.6 1140.3,414.5 1143.2,414.5 1144.1,415.4 1144.1,418.2 1150.7,418.2 1150.7,415.4 1151.6,414.5 1154.4,414.5 1155.3,415.4 1155.3,418.2 1158.2,418.2 1159.1,419.2 1159.1,422.0 1165.7,422.0 1166.6,422.9 1166.6,433.3 1169.4,433.3 1170.3,434.2 1170.3,437.1 1176.9,437.1 1177.8,438.0 1177.8,440.8 1184.4,440.8 1184.4,438.0 1185.3,437.1 1188.2,437.1 1189.1,438.0 1189.1,440.8 1195.7,440.8 1196.6,441.8 1196.6,444.6 1203.2,444.6 1204.1,445.5 1204.1,448.4 1206.9,448.4 1207.8,449.3 1207.8,455.9 1218.2,455.9 1218.2,453.1 1219.1,452.1 1225.7,452.1 1225.7,449.3 1226.6,448.4 1229.4,448.4 1229.4,438.0 1230.3,437.1 1236.9,437.1 1236.9,415.4 1219.1,415.4 1219.1,418.2 1218.2,419.2 1196.6,419.2 1195.7,418.2 1195.7,411.6 1192.8,411.6 1191.9,410.7 1191.9,407.9 1185.3,407.9 1184.4,406.9 1184.4,404.1 1181.6,404.1 1180.7,403.2 1180.7,396.6 1177.8,396.6 1176.9,395.6 1176.9,362.7 1177.8,361.8 1180.7,361.8 1180.7,347.6 1181.6,346.7 1184.4,346.7 1184.4,332.6 1181.6,332.6 1180.7,331.6 1180.7,325.0 1177.8,325.0 1176.9,324.1 1176.9,321.3 1170.3,321.3 1169.4,320.3 1169.4,317.5 1166.6,317.5 1165.7,316.6 1165.7,313.8 1151.6,313.8 1150.7,312.8 1150.7,310.0 1147.8,310.0 1147.8,312.8 1146.9,313.8 1102.8,313.8 1101.9,312.8 1101.9,310.0 1102.8,309.0 1105.7,309.0 1105.7,294.9 1106.6,294.0 1109.4,294.0 1109.4,287.4Z"/>
<rect x="1049" y="568" width="18" height="7.6" fill="#fff"/>
<polygon points="900.6,287.9 913.6,296.9 942.0,308.5 957.4,315.0 983.3,321.4 1001.3,314.5 1014.2,315.0 1024.6,322.7 1037.5,333.0 1060.7,347.2 1076.2,352.4 1080.0,355.3 1090.6,358.0 1102.9,358.8 1111.7,356.2 1116.1,361.5 1112.6,361.5 1132.8,384.4 1139.9,389.6 1139.6,402.5 1141.0,408.0 1149.2,412.5 1154.3,408.4 1159.5,413.6 1168.3,419.5 1172.0,424.0 1170.9,430.6 1181.6,435.0 1186.0,433.5 1198.6,436.5 1204.5,441.6 1211.9,442.4 1213.3,450.5 1225.1,446.0 1220.0,437.2 1225.1,433.5 1232.0,433.5 1232.0,421.0 1225.1,421.0 1206.0,427.2 1194.2,423.2 1191.2,416.5 1179.4,407.7 1171.3,393.0 1169.8,389.6 1171.5,375.5 1173.3,363.2 1176.0,349.1 1178.6,342.1 1177.7,331.5 1171.5,326.3 1162.7,321.0 1150.4,317.5 1132.8,318.3 1122.3,321.0 1115.2,320.1 1104.6,321.9 1092.3,316.6 1098.5,310.4 1102.0,301.6 1102.9,287.5 1102.9,280.0 895.0,280.0" fill="#808080" stroke="#000" stroke-width="1.2"/>
<polygon points="1232.0,560.3 1224.9,560.3 1220.0,562.4 1215.8,571.5 1213.7,573.6 1215.1,582.0 1214.4,593.2 1217.2,596.0 1221.4,600.2 1224.9,603.7 1232.0,603.7" fill="#808080" stroke="#000" stroke-width="1.2"/>
<polygon points="1232.0,610.0 1224.9,610.0 1215.8,615.6 1208.8,621.2 1206.7,625.4 1208.1,632.4 1211.6,640.8 1209.5,648.5 1217.2,653.4 1224.9,659.0 1232.0,659.0" fill="#808080" stroke="#000" stroke-width="1.2"/>
<polygon points="1055.3,557.1 1064.7,569.7 1059.3,574.7 1054.4,572.4 1058.4,568.8 1054.4,565.2" fill="#808080" stroke="#000" stroke-width="1.2"/>
</g>
<line x1="401.40" y1="288" x2="401.40" y2="677" stroke="#000" stroke-width="1.1" stroke-dasharray="1.2,2.8" stroke-dashoffset="-1.9"/>
<line x1="626.40" y1="288" x2="626.40" y2="677" stroke="#000" stroke-width="1.1" stroke-dasharray="1.2,2.8" stroke-dashoffset="-1.9"/>
<line x1="851.40" y1="288" x2="851.40" y2="677" stroke="#000" stroke-width="1.1" stroke-dasharray="1.2,2.8" stroke-dashoffset="-1.9"/>
<line x1="1076.40" y1="288" x2="1076.40" y2="677" stroke="#000" stroke-width="1.1" stroke-dasharray="1.2,2.8" stroke-dashoffset="-1.9"/>
<line x1="178" y1="332.10" x2="1225" y2="332.10" stroke="#000" stroke-width="1.1" stroke-dasharray="1.2,2.8" stroke-dashoffset="-1.9"/>
<line x1="178" y1="407.40" x2="1225" y2="407.40" stroke="#000" stroke-width="1.1" stroke-dasharray="1.2,2.8" stroke-dashoffset="-1.9"/>
<line x1="178" y1="482.70" x2="1225" y2="482.70" stroke="#000" stroke-width="1.1" stroke-dasharray="1.2,2.8" stroke-dashoffset="-1.9"/>
<line x1="178" y1="558.00" x2="1225" y2="558.00" stroke="#000" stroke-width="1.1" stroke-dasharray="1.2,2.8" stroke-dashoffset="-1.9"/>
<line x1="178" y1="633.30" x2="1225" y2="633.30" stroke="#000" stroke-width="1.1" stroke-dasharray="1.2,2.8" stroke-dashoffset="-1.9"/>
<rect x="176" y="286" width="1051" height="393" fill="none" stroke="#000" stroke-width="4"/>
<rect x="399.3" y="288" width="4" height="8" fill="#000"/>
<rect x="399.3" y="669" width="4" height="8" fill="#000"/>
<rect x="624.3" y="288" width="4" height="8" fill="#000"/>
<rect x="624.3" y="669" width="4" height="8" fill="#000"/>
<rect x="849.3" y="288" width="4" height="8" fill="#000"/>
<rect x="849.3" y="669" width="4" height="8" fill="#000"/>
<rect x="1074.3" y="288" width="4" height="8" fill="#000"/>
<rect x="1074.3" y="669" width="4" height="8" fill="#000"/>
<rect x="178" y="330.1" width="8.2" height="4" fill="#000"/>
<rect x="1216.8" y="330.1" width="8.2" height="4" fill="#000"/>
<rect x="178" y="405.4" width="8.2" height="4" fill="#000"/>
<rect x="1216.8" y="405.4" width="8.2" height="4" fill="#000"/>
<rect x="178" y="480.7" width="8.2" height="4" fill="#000"/>
<rect x="1216.8" y="480.7" width="8.2" height="4" fill="#000"/>
<rect x="178" y="556.0" width="8.2" height="4" fill="#000"/>
<rect x="1216.8" y="556.0" width="8.2" height="4" fill="#000"/>
<rect x="178" y="631.3" width="8.2" height="4" fill="#000"/>
<rect x="1216.8" y="631.3" width="8.2" height="4" fill="#000"/>
<text x="176.6" y="700.8" text-anchor="middle" font-size="16.5" fill="#000">150<tspan dx="0.5" dy="-7.5" font-size="12.5">o</tspan><tspan dx="0.5" dy="7.5">W</tspan></text>
<text x="401.6" y="700.8" text-anchor="middle" font-size="16.5" fill="#000">135<tspan dx="0.5" dy="-7.5" font-size="12.5">o</tspan><tspan dx="0.5" dy="7.5">W</tspan></text>
<text x="626.6" y="700.8" text-anchor="middle" font-size="16.5" fill="#000">120<tspan dx="0.5" dy="-7.5" font-size="12.5">o</tspan><tspan dx="0.5" dy="7.5">W</tspan></text>
<text x="851.6" y="700.8" text-anchor="middle" font-size="16.5" fill="#000">105<tspan dx="0.5" dy="-7.5" font-size="12.5">o</tspan><tspan dx="0.5" dy="7.5">W</tspan></text>
<text x="1076.6" y="700.8" text-anchor="middle" font-size="16.5" fill="#000">90<tspan dx="0.5" dy="-7.5" font-size="12.5">o</tspan><tspan dx="0.5" dy="7.5">W</tspan></text>
<text x="171" y="341.2" text-anchor="end" font-size="16.5" fill="#000">15<tspan dx="0.5" dy="-7.5" font-size="12.5">o</tspan><tspan dx="0.5" dy="7.5">N</tspan></text>
<text x="171" y="416.5" text-anchor="end" font-size="16.5" fill="#000">10<tspan dx="0.5" dy="-7.5" font-size="12.5">o</tspan><tspan dx="0.5" dy="7.5">N</tspan></text>
<text x="171" y="491.8" text-anchor="end" font-size="16.5" fill="#000">5<tspan dx="0.5" dy="-7.5" font-size="12.5">o</tspan><tspan dx="0.5" dy="7.5">N</tspan></text>
<text x="165.5" y="567.1" text-anchor="end" font-size="16.5" fill="#000">0<tspan dx="0.5" dy="-7.5" font-size="12.5">o</tspan><tspan dx="0.5" dy="7.5"></tspan></text>
<text x="171" y="642.4" text-anchor="end" font-size="16.5" fill="#000">5<tspan dx="0.5" dy="-7.5" font-size="12.5">o</tspan><tspan dx="0.5" dy="7.5">S</tspan></text>
<rect x="174.5" y="711.5" width="1050" height="19" fill="url(#cb)" stroke="#262626" stroke-width="1"/>
<line x1="349.5" y1="720" x2="349.5" y2="730.5" stroke="#262626" stroke-width="1"/>
<line x1="524.5" y1="720" x2="524.5" y2="730.5" stroke="#262626" stroke-width="1"/>
<line x1="699.5" y1="720" x2="699.5" y2="730.5" stroke="#262626" stroke-width="1"/>
<line x1="874.5" y1="720" x2="874.5" y2="730.5" stroke="#262626" stroke-width="1"/>
<line x1="1049.5" y1="720" x2="1049.5" y2="730.5" stroke="#262626" stroke-width="1"/>
<text x="174.5" y="755" text-anchor="middle" font-size="16.4" fill="#262626">-0.03</text>
<text x="349.5" y="755" text-anchor="middle" font-size="16.4" fill="#262626">-0.02</text>
<text x="524.5" y="755" text-anchor="middle" font-size="16.4" fill="#262626">-0.01</text>
<text x="699.5" y="755" text-anchor="middle" font-size="16.4" fill="#262626">0</text>
<text x="874.5" y="755" text-anchor="middle" font-size="16.4" fill="#262626">0.01</text>
<text x="1049.5" y="755" text-anchor="middle" font-size="16.4" fill="#262626">0.02</text>
<text x="1224.5" y="755" text-anchor="middle" font-size="16.4" fill="#262626">0.03</text>
<text x="700" y="779" text-anchor="middle" font-size="16" fill="#262626">°C/km</text>
</svg></body></html>
